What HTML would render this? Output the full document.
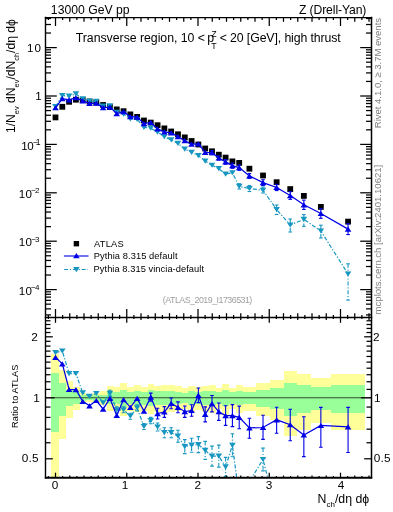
<!DOCTYPE html>
<html><head><meta charset="utf-8">
<style>
html,body{margin:0;padding:0;background:#fff;}
body{width:393px;height:512px;position:relative;overflow:hidden;}
#w{position:absolute;left:0;top:0;width:393px;height:512px;will-change:transform;background:#fff;}
</style></head><body><div id="w">
<svg width="393" height="512" viewBox="0 0 393 512" style="position:absolute;left:0;top:0">
<defs><clipPath id="cu"><rect x="45" y="17" width="326" height="300"/></clipPath><clipPath id="cl"><rect x="45" y="317" width="326" height="160.7"/></clipPath></defs>
<g clip-path="url(#cl)" shape-rendering="crispEdges">
<rect x="51.49" y="353.90" width="7.81" height="135.51" fill="#ffff99"/>
<rect x="59.30" y="369.70" width="6.61" height="69.63" fill="#ffff99"/>
<rect x="65.91" y="381.10" width="6.80" height="37.33" fill="#ffff99"/>
<rect x="72.71" y="387.00" width="6.80" height="23.11" fill="#ffff99"/>
<rect x="79.51" y="393.00" width="6.80" height="9.88" fill="#ffff99"/>
<rect x="86.32" y="393.50" width="6.80" height="8.82" fill="#ffff99"/>
<rect x="93.12" y="392.50" width="6.80" height="10.94" fill="#ffff99"/>
<rect x="99.93" y="391.00" width="6.80" height="14.17" fill="#ffff99"/>
<rect x="106.73" y="386.20" width="6.80" height="24.96" fill="#ffff99"/>
<rect x="113.53" y="386.50" width="6.80" height="24.27" fill="#ffff99"/>
<rect x="120.34" y="382.90" width="6.80" height="32.85" fill="#ffff99"/>
<rect x="127.14" y="386.50" width="6.80" height="24.27" fill="#ffff99"/>
<rect x="133.95" y="385.40" width="6.80" height="26.84" fill="#ffff99"/>
<rect x="140.75" y="386.50" width="6.80" height="24.27" fill="#ffff99"/>
<rect x="147.55" y="384.20" width="6.80" height="29.69" fill="#ffff99"/>
<rect x="154.36" y="385.70" width="6.80" height="26.13" fill="#ffff99"/>
<rect x="161.16" y="385.00" width="6.80" height="27.78" fill="#ffff99"/>
<rect x="167.97" y="385.30" width="6.80" height="27.07" fill="#ffff99"/>
<rect x="174.77" y="386.00" width="6.80" height="25.43" fill="#ffff99"/>
<rect x="181.57" y="388.00" width="6.80" height="20.83" fill="#ffff99"/>
<rect x="188.38" y="385.70" width="6.80" height="26.13" fill="#ffff99"/>
<rect x="195.18" y="387.30" width="6.80" height="22.42" fill="#ffff99"/>
<rect x="201.99" y="385.70" width="6.80" height="26.13" fill="#ffff99"/>
<rect x="208.79" y="385.00" width="6.80" height="27.78" fill="#ffff99"/>
<rect x="215.59" y="387.80" width="6.80" height="21.28" fill="#ffff99"/>
<rect x="222.40" y="383.70" width="6.80" height="30.90" fill="#ffff99"/>
<rect x="229.20" y="387.80" width="6.80" height="21.28" fill="#ffff99"/>
<rect x="236.01" y="385.00" width="6.80" height="27.78" fill="#ffff99"/>
<rect x="242.81" y="386.70" width="13.61" height="23.81" fill="#ffff99"/>
<rect x="256.42" y="382.80" width="13.61" height="33.09" fill="#ffff99"/>
<rect x="270.03" y="380.20" width="13.61" height="39.62" fill="#ffff99"/>
<rect x="283.63" y="371.10" width="13.61" height="65.22" fill="#ffff99"/>
<rect x="297.24" y="374.20" width="13.61" height="55.95" fill="#ffff99"/>
<rect x="310.85" y="378.30" width="20.41" height="44.59" fill="#ffff99"/>
<rect x="331.26" y="374.20" width="33.44" height="55.95" fill="#ffff99"/>
<rect x="51.49" y="373.00" width="7.81" height="59.46" fill="#99ff99"/>
<rect x="59.30" y="382.50" width="6.61" height="33.83" fill="#99ff99"/>
<rect x="65.91" y="390.30" width="6.80" height="15.70" fill="#99ff99"/>
<rect x="72.71" y="391.90" width="6.80" height="12.22" fill="#99ff99"/>
<rect x="79.51" y="395.00" width="6.80" height="5.69" fill="#99ff99"/>
<rect x="86.32" y="395.50" width="6.80" height="4.66" fill="#99ff99"/>
<rect x="93.12" y="395.00" width="6.80" height="5.69" fill="#99ff99"/>
<rect x="99.93" y="394.50" width="6.80" height="6.73" fill="#99ff99"/>
<rect x="106.73" y="392.00" width="6.80" height="12.01" fill="#99ff99"/>
<rect x="113.53" y="391.80" width="6.80" height="12.44" fill="#99ff99"/>
<rect x="120.34" y="389.50" width="6.80" height="17.47" fill="#99ff99"/>
<rect x="127.14" y="391.80" width="6.80" height="12.44" fill="#99ff99"/>
<rect x="133.95" y="391.00" width="6.80" height="14.17" fill="#99ff99"/>
<rect x="140.75" y="391.50" width="6.80" height="13.09" fill="#99ff99"/>
<rect x="147.55" y="390.30" width="6.80" height="15.70" fill="#99ff99"/>
<rect x="154.36" y="391.00" width="6.80" height="14.17" fill="#99ff99"/>
<rect x="161.16" y="391.00" width="6.80" height="14.17" fill="#99ff99"/>
<rect x="167.97" y="391.40" width="6.80" height="13.30" fill="#99ff99"/>
<rect x="174.77" y="391.80" width="6.80" height="12.44" fill="#99ff99"/>
<rect x="181.57" y="392.60" width="6.80" height="10.73" fill="#99ff99"/>
<rect x="188.38" y="391.40" width="6.80" height="13.30" fill="#99ff99"/>
<rect x="195.18" y="392.10" width="6.80" height="11.79" fill="#99ff99"/>
<rect x="201.99" y="391.10" width="6.80" height="13.95" fill="#99ff99"/>
<rect x="208.79" y="391.10" width="6.80" height="13.95" fill="#99ff99"/>
<rect x="215.59" y="392.10" width="6.80" height="11.79" fill="#99ff99"/>
<rect x="222.40" y="390.30" width="6.80" height="15.70" fill="#99ff99"/>
<rect x="229.20" y="391.70" width="6.80" height="12.65" fill="#99ff99"/>
<rect x="236.01" y="390.80" width="6.80" height="14.61" fill="#99ff99"/>
<rect x="242.81" y="391.70" width="13.61" height="12.65" fill="#99ff99"/>
<rect x="256.42" y="389.60" width="13.61" height="17.24" fill="#99ff99"/>
<rect x="270.03" y="388.20" width="13.61" height="20.38" fill="#99ff99"/>
<rect x="283.63" y="382.90" width="13.61" height="32.85" fill="#99ff99"/>
<rect x="297.24" y="384.70" width="13.61" height="28.50" fill="#99ff99"/>
<rect x="310.85" y="387.00" width="20.41" height="23.11" fill="#99ff99"/>
<rect x="331.26" y="384.70" width="33.44" height="28.50" fill="#99ff99"/>
</g>
<line x1="45" y1="397.8" x2="371" y2="397.8" stroke="#000" stroke-opacity="0.7" stroke-width="1.1"/>
<g clip-path="url(#cl)">
<path d="M55.50,352.60 L62.30,351.00 L69.11,373.70 L75.91,373.50 L82.72,392.90 L89.52,396.40 L96.32,393.50 L103.13,402.80 L109.93,393.30 L116.74,409.80 L123.54,409.80 L130.34,416.20 L137.15,407.90 L143.95,426.50 L150.76,420.60 L157.56,427.00 L164.36,432.70 L171.17,432.70 L177.97,436.20 L184.78,446.60 L191.58,445.20 L198.38,444.60 L205.19,450.40 L211.99,456.10 L218.80,456.10 L225.60,466.90 L232.40,445.30 L239.21,497.00 L249.41,481.50 L263.02,459.50 L276.63,511.70 L290.24,549.00 L303.85,495.80 L320.86,498.70 L348.07,613.80" fill="none" stroke="#1696c0" stroke-width="1.2" stroke-dasharray="4,1.8,1.2,1.8"/>
<path d="M52.20,350.00 L58.80,350.00 L55.50,355.20Z" fill="#1696c0"/>
<path d="M59.00,348.40 L65.60,348.40 L62.30,353.60Z" fill="#1696c0"/>
<path d="M65.81,371.10 L72.41,371.10 L69.11,376.30Z" fill="#1696c0"/>
<path d="M72.61,370.90 L79.21,370.90 L75.91,376.10Z" fill="#1696c0"/>
<path d="M79.42,390.30 L86.02,390.30 L82.72,395.50Z" fill="#1696c0"/>
<path d="M86.22,393.80 L92.82,393.80 L89.52,399.00Z" fill="#1696c0"/>
<path d="M93.02,390.90 L99.62,390.90 L96.32,396.10Z" fill="#1696c0"/>
<path d="M99.83,400.20 L106.43,400.20 L103.13,405.40Z" fill="#1696c0"/>
<line x1="109.93" y1="390.30" x2="109.93" y2="396.30" stroke="#1696c0" stroke-width="1.1" stroke-dasharray="4,1.8,1.2,1.8"/><line x1="108.13" y1="390.30" x2="111.73" y2="390.30" stroke="#1696c0" stroke-width="1.1"/><line x1="108.13" y1="396.30" x2="111.73" y2="396.30" stroke="#1696c0" stroke-width="1.1"/>
<path d="M106.63,390.70 L113.23,390.70 L109.93,395.90Z" fill="#1696c0"/>
<line x1="116.74" y1="406.80" x2="116.74" y2="412.80" stroke="#1696c0" stroke-width="1.1" stroke-dasharray="4,1.8,1.2,1.8"/><line x1="114.94" y1="406.80" x2="118.54" y2="406.80" stroke="#1696c0" stroke-width="1.1"/><line x1="114.94" y1="412.80" x2="118.54" y2="412.80" stroke="#1696c0" stroke-width="1.1"/>
<path d="M113.44,407.20 L120.04,407.20 L116.74,412.40Z" fill="#1696c0"/>
<line x1="123.54" y1="406.80" x2="123.54" y2="412.80" stroke="#1696c0" stroke-width="1.1" stroke-dasharray="4,1.8,1.2,1.8"/><line x1="121.74" y1="406.80" x2="125.34" y2="406.80" stroke="#1696c0" stroke-width="1.1"/><line x1="121.74" y1="412.80" x2="125.34" y2="412.80" stroke="#1696c0" stroke-width="1.1"/>
<path d="M120.24,407.20 L126.84,407.20 L123.54,412.40Z" fill="#1696c0"/>
<line x1="130.34" y1="413.20" x2="130.34" y2="419.20" stroke="#1696c0" stroke-width="1.1" stroke-dasharray="4,1.8,1.2,1.8"/><line x1="128.54" y1="413.20" x2="132.14" y2="413.20" stroke="#1696c0" stroke-width="1.1"/><line x1="128.54" y1="419.20" x2="132.14" y2="419.20" stroke="#1696c0" stroke-width="1.1"/>
<path d="M127.04,413.60 L133.64,413.60 L130.34,418.80Z" fill="#1696c0"/>
<line x1="137.15" y1="404.90" x2="137.15" y2="410.90" stroke="#1696c0" stroke-width="1.1" stroke-dasharray="4,1.8,1.2,1.8"/><line x1="135.35" y1="404.90" x2="138.95" y2="404.90" stroke="#1696c0" stroke-width="1.1"/><line x1="135.35" y1="410.90" x2="138.95" y2="410.90" stroke="#1696c0" stroke-width="1.1"/>
<path d="M133.85,405.30 L140.45,405.30 L137.15,410.50Z" fill="#1696c0"/>
<line x1="143.95" y1="423.50" x2="143.95" y2="429.50" stroke="#1696c0" stroke-width="1.1" stroke-dasharray="4,1.8,1.2,1.8"/><line x1="142.15" y1="423.50" x2="145.75" y2="423.50" stroke="#1696c0" stroke-width="1.1"/><line x1="142.15" y1="429.50" x2="145.75" y2="429.50" stroke="#1696c0" stroke-width="1.1"/>
<path d="M140.65,423.90 L147.25,423.90 L143.95,429.10Z" fill="#1696c0"/>
<line x1="150.76" y1="417.40" x2="150.76" y2="423.80" stroke="#1696c0" stroke-width="1.1" stroke-dasharray="4,1.8,1.2,1.8"/><line x1="148.96" y1="417.40" x2="152.56" y2="417.40" stroke="#1696c0" stroke-width="1.1"/><line x1="148.96" y1="423.80" x2="152.56" y2="423.80" stroke="#1696c0" stroke-width="1.1"/>
<path d="M147.46,418.00 L154.06,418.00 L150.76,423.20Z" fill="#1696c0"/>
<line x1="157.56" y1="423.00" x2="157.56" y2="431.00" stroke="#1696c0" stroke-width="1.1" stroke-dasharray="4,1.8,1.2,1.8"/><line x1="155.76" y1="423.00" x2="159.36" y2="423.00" stroke="#1696c0" stroke-width="1.1"/><line x1="155.76" y1="431.00" x2="159.36" y2="431.00" stroke="#1696c0" stroke-width="1.1"/>
<path d="M154.26,424.40 L160.86,424.40 L157.56,429.60Z" fill="#1696c0"/>
<line x1="164.36" y1="427.70" x2="164.36" y2="437.70" stroke="#1696c0" stroke-width="1.1" stroke-dasharray="4,1.8,1.2,1.8"/><line x1="162.56" y1="427.70" x2="166.16" y2="427.70" stroke="#1696c0" stroke-width="1.1"/><line x1="162.56" y1="437.70" x2="166.16" y2="437.70" stroke="#1696c0" stroke-width="1.1"/>
<path d="M161.06,430.10 L167.66,430.10 L164.36,435.30Z" fill="#1696c0"/>
<line x1="171.17" y1="427.70" x2="171.17" y2="437.70" stroke="#1696c0" stroke-width="1.1" stroke-dasharray="4,1.8,1.2,1.8"/><line x1="169.37" y1="427.70" x2="172.97" y2="427.70" stroke="#1696c0" stroke-width="1.1"/><line x1="169.37" y1="437.70" x2="172.97" y2="437.70" stroke="#1696c0" stroke-width="1.1"/>
<path d="M167.87,430.10 L174.47,430.10 L171.17,435.30Z" fill="#1696c0"/>
<line x1="177.97" y1="430.20" x2="177.97" y2="442.20" stroke="#1696c0" stroke-width="1.1" stroke-dasharray="4,1.8,1.2,1.8"/><line x1="176.17" y1="430.20" x2="179.77" y2="430.20" stroke="#1696c0" stroke-width="1.1"/><line x1="176.17" y1="442.20" x2="179.77" y2="442.20" stroke="#1696c0" stroke-width="1.1"/>
<path d="M174.67,433.60 L181.27,433.60 L177.97,438.80Z" fill="#1696c0"/>
<line x1="184.78" y1="439.60" x2="184.78" y2="453.60" stroke="#1696c0" stroke-width="1.1" stroke-dasharray="4,1.8,1.2,1.8"/><line x1="182.98" y1="439.60" x2="186.58" y2="439.60" stroke="#1696c0" stroke-width="1.1"/><line x1="182.98" y1="453.60" x2="186.58" y2="453.60" stroke="#1696c0" stroke-width="1.1"/>
<path d="M181.48,444.00 L188.08,444.00 L184.78,449.20Z" fill="#1696c0"/>
<line x1="191.58" y1="438.20" x2="191.58" y2="452.20" stroke="#1696c0" stroke-width="1.1" stroke-dasharray="4,1.8,1.2,1.8"/><line x1="189.78" y1="438.20" x2="193.38" y2="438.20" stroke="#1696c0" stroke-width="1.1"/><line x1="189.78" y1="452.20" x2="193.38" y2="452.20" stroke="#1696c0" stroke-width="1.1"/>
<path d="M188.28,442.60 L194.88,442.60 L191.58,447.80Z" fill="#1696c0"/>
<line x1="198.38" y1="436.60" x2="198.38" y2="452.60" stroke="#1696c0" stroke-width="1.1" stroke-dasharray="4,1.8,1.2,1.8"/><line x1="196.58" y1="436.60" x2="200.18" y2="436.60" stroke="#1696c0" stroke-width="1.1"/><line x1="196.58" y1="452.60" x2="200.18" y2="452.60" stroke="#1696c0" stroke-width="1.1"/>
<path d="M195.08,442.00 L201.68,442.00 L198.38,447.20Z" fill="#1696c0"/>
<line x1="205.19" y1="441.40" x2="205.19" y2="459.40" stroke="#1696c0" stroke-width="1.1" stroke-dasharray="4,1.8,1.2,1.8"/><line x1="203.39" y1="441.40" x2="206.99" y2="441.40" stroke="#1696c0" stroke-width="1.1"/><line x1="203.39" y1="459.40" x2="206.99" y2="459.40" stroke="#1696c0" stroke-width="1.1"/>
<path d="M201.89,447.80 L208.49,447.80 L205.19,453.00Z" fill="#1696c0"/>
<line x1="211.99" y1="446.10" x2="211.99" y2="466.10" stroke="#1696c0" stroke-width="1.1" stroke-dasharray="4,1.8,1.2,1.8"/><line x1="210.19" y1="446.10" x2="213.79" y2="446.10" stroke="#1696c0" stroke-width="1.1"/><line x1="210.19" y1="466.10" x2="213.79" y2="466.10" stroke="#1696c0" stroke-width="1.1"/>
<path d="M208.69,453.50 L215.29,453.50 L211.99,458.70Z" fill="#1696c0"/>
<line x1="218.80" y1="445.10" x2="218.80" y2="467.10" stroke="#1696c0" stroke-width="1.1" stroke-dasharray="4,1.8,1.2,1.8"/><line x1="217.00" y1="445.10" x2="220.60" y2="445.10" stroke="#1696c0" stroke-width="1.1"/><line x1="217.00" y1="467.10" x2="220.60" y2="467.10" stroke="#1696c0" stroke-width="1.1"/>
<path d="M215.50,453.50 L222.10,453.50 L218.80,458.70Z" fill="#1696c0"/>
<line x1="225.60" y1="457.40" x2="225.60" y2="476.40" stroke="#1696c0" stroke-width="1.1" stroke-dasharray="4,1.8,1.2,1.8"/><line x1="223.80" y1="457.40" x2="227.40" y2="457.40" stroke="#1696c0" stroke-width="1.1"/><line x1="223.80" y1="476.40" x2="227.40" y2="476.40" stroke="#1696c0" stroke-width="1.1"/>
<path d="M222.30,464.30 L228.90,464.30 L225.60,469.50Z" fill="#1696c0"/>
<line x1="232.40" y1="433.80" x2="232.40" y2="456.80" stroke="#1696c0" stroke-width="1.1" stroke-dasharray="4,1.8,1.2,1.8"/><line x1="230.60" y1="433.80" x2="234.20" y2="433.80" stroke="#1696c0" stroke-width="1.1"/><line x1="230.60" y1="456.80" x2="234.20" y2="456.80" stroke="#1696c0" stroke-width="1.1"/>
<path d="M229.10,442.70 L235.70,442.70 L232.40,447.90Z" fill="#1696c0"/>
<line x1="239.21" y1="483.00" x2="239.21" y2="511.00" stroke="#1696c0" stroke-width="1.1" stroke-dasharray="4,1.8,1.2,1.8"/><line x1="237.41" y1="483.00" x2="241.01" y2="483.00" stroke="#1696c0" stroke-width="1.1"/><line x1="237.41" y1="511.00" x2="241.01" y2="511.00" stroke="#1696c0" stroke-width="1.1"/>
<path d="M235.91,494.40 L242.51,494.40 L239.21,499.60Z" fill="#1696c0"/>
<line x1="249.41" y1="478.50" x2="249.41" y2="484.50" stroke="#1696c0" stroke-width="1.1" stroke-dasharray="4,1.8,1.2,1.8"/><line x1="247.61" y1="478.50" x2="251.21" y2="478.50" stroke="#1696c0" stroke-width="1.1"/><line x1="247.61" y1="484.50" x2="251.21" y2="484.50" stroke="#1696c0" stroke-width="1.1"/>
<path d="M246.11,478.90 L252.71,478.90 L249.41,484.10Z" fill="#1696c0"/>
<line x1="263.02" y1="448.10" x2="263.02" y2="470.90" stroke="#1696c0" stroke-width="1.1" stroke-dasharray="4,1.8,1.2,1.8"/><line x1="261.22" y1="448.10" x2="264.82" y2="448.10" stroke="#1696c0" stroke-width="1.1"/><line x1="261.22" y1="470.90" x2="264.82" y2="470.90" stroke="#1696c0" stroke-width="1.1"/>
<path d="M259.72,456.90 L266.32,456.90 L263.02,462.10Z" fill="#1696c0"/>
<line x1="276.63" y1="491.70" x2="276.63" y2="531.70" stroke="#1696c0" stroke-width="1.1" stroke-dasharray="4,1.8,1.2,1.8"/><line x1="274.83" y1="491.70" x2="278.43" y2="491.70" stroke="#1696c0" stroke-width="1.1"/><line x1="274.83" y1="531.70" x2="278.43" y2="531.70" stroke="#1696c0" stroke-width="1.1"/>
<path d="M273.33,509.10 L279.93,509.10 L276.63,514.30Z" fill="#1696c0"/>
<line x1="290.24" y1="521.00" x2="290.24" y2="577.00" stroke="#1696c0" stroke-width="1.1" stroke-dasharray="4,1.8,1.2,1.8"/><line x1="288.44" y1="521.00" x2="292.04" y2="521.00" stroke="#1696c0" stroke-width="1.1"/><line x1="288.44" y1="577.00" x2="292.04" y2="577.00" stroke="#1696c0" stroke-width="1.1"/>
<path d="M286.94,546.40 L293.54,546.40 L290.24,551.60Z" fill="#1696c0"/>
<line x1="303.85" y1="485.80" x2="303.85" y2="505.80" stroke="#1696c0" stroke-width="1.1" stroke-dasharray="4,1.8,1.2,1.8"/><line x1="302.05" y1="485.80" x2="305.65" y2="485.80" stroke="#1696c0" stroke-width="1.1"/><line x1="302.05" y1="505.80" x2="305.65" y2="505.80" stroke="#1696c0" stroke-width="1.1"/>
<path d="M300.55,493.20 L307.15,493.20 L303.85,498.40Z" fill="#1696c0"/>
<line x1="320.86" y1="488.70" x2="320.86" y2="508.70" stroke="#1696c0" stroke-width="1.1" stroke-dasharray="4,1.8,1.2,1.8"/><line x1="319.06" y1="488.70" x2="322.66" y2="488.70" stroke="#1696c0" stroke-width="1.1"/><line x1="319.06" y1="508.70" x2="322.66" y2="508.70" stroke="#1696c0" stroke-width="1.1"/>
<path d="M317.56,496.10 L324.16,496.10 L320.86,501.30Z" fill="#1696c0"/>
<line x1="348.07" y1="553.80" x2="348.07" y2="673.80" stroke="#1696c0" stroke-width="1.1" stroke-dasharray="4,1.8,1.2,1.8"/><line x1="346.27" y1="553.80" x2="349.87" y2="553.80" stroke="#1696c0" stroke-width="1.1"/><line x1="346.27" y1="673.80" x2="349.87" y2="673.80" stroke="#1696c0" stroke-width="1.1"/>
<path d="M344.77,611.20 L351.37,611.20 L348.07,616.40Z" fill="#1696c0"/>
<path d="M55.50,357.40 L62.30,363.90 L69.11,389.50 L75.91,389.60 L82.72,401.30 L89.52,405.80 L96.32,400.50 L103.13,409.20 L109.93,398.40 L116.74,415.50 L123.54,399.60 L130.34,407.30 L137.15,398.40 L143.95,411.10 L150.76,397.10 L157.56,413.60 L164.36,412.00 L171.17,403.40 L177.97,407.30 L184.78,411.70 L191.58,410.50 L198.38,395.30 L205.19,414.40 L211.99,403.70 L218.80,411.70 L225.60,415.60 L232.40,415.60 L239.21,417.40 L249.41,427.90 L263.02,427.50 L276.63,419.80 L290.24,424.70 L303.85,435.00 L320.86,425.50 L348.07,426.90" fill="none" stroke="#0000e6" stroke-width="1.25"/>
<path d="M52.20,360.00 L58.80,360.00 L55.50,354.80Z" fill="#0000e6"/>
<path d="M59.00,366.50 L65.60,366.50 L62.30,361.30Z" fill="#0000e6"/>
<path d="M65.81,392.10 L72.41,392.10 L69.11,386.90Z" fill="#0000e6"/>
<path d="M72.61,392.20 L79.21,392.20 L75.91,387.00Z" fill="#0000e6"/>
<path d="M79.42,403.90 L86.02,403.90 L82.72,398.70Z" fill="#0000e6"/>
<path d="M86.22,408.40 L92.82,408.40 L89.52,403.20Z" fill="#0000e6"/>
<path d="M93.02,403.10 L99.62,403.10 L96.32,397.90Z" fill="#0000e6"/>
<path d="M99.83,411.80 L106.43,411.80 L103.13,406.60Z" fill="#0000e6"/>
<path d="M106.63,401.00 L113.23,401.00 L109.93,395.80Z" fill="#0000e6"/>
<path d="M113.44,418.10 L120.04,418.10 L116.74,412.90Z" fill="#0000e6"/>
<path d="M120.24,402.20 L126.84,402.20 L123.54,397.00Z" fill="#0000e6"/>
<path d="M127.04,409.90 L133.64,409.90 L130.34,404.70Z" fill="#0000e6"/>
<path d="M133.85,401.00 L140.45,401.00 L137.15,395.80Z" fill="#0000e6"/>
<path d="M140.65,413.70 L147.25,413.70 L143.95,408.50Z" fill="#0000e6"/>
<line x1="150.76" y1="393.10" x2="150.76" y2="401.10" stroke="#0000e6" stroke-width="1.1"/><line x1="148.96" y1="393.10" x2="152.56" y2="393.10" stroke="#0000e6" stroke-width="1.1"/><line x1="148.96" y1="401.10" x2="152.56" y2="401.10" stroke="#0000e6" stroke-width="1.1"/>
<path d="M147.46,399.70 L154.06,399.70 L150.76,394.50Z" fill="#0000e6"/>
<line x1="157.56" y1="408.20" x2="157.56" y2="419.00" stroke="#0000e6" stroke-width="1.1"/><line x1="155.76" y1="408.20" x2="159.36" y2="408.20" stroke="#0000e6" stroke-width="1.1"/><line x1="155.76" y1="419.00" x2="159.36" y2="419.00" stroke="#0000e6" stroke-width="1.1"/>
<path d="M154.26,416.20 L160.86,416.20 L157.56,411.00Z" fill="#0000e6"/>
<line x1="164.36" y1="406.60" x2="164.36" y2="417.40" stroke="#0000e6" stroke-width="1.1"/><line x1="162.56" y1="406.60" x2="166.16" y2="406.60" stroke="#0000e6" stroke-width="1.1"/><line x1="162.56" y1="417.40" x2="166.16" y2="417.40" stroke="#0000e6" stroke-width="1.1"/>
<path d="M161.06,414.60 L167.66,414.60 L164.36,409.40Z" fill="#0000e6"/>
<line x1="171.17" y1="398.00" x2="171.17" y2="408.80" stroke="#0000e6" stroke-width="1.1"/><line x1="169.37" y1="398.00" x2="172.97" y2="398.00" stroke="#0000e6" stroke-width="1.1"/><line x1="169.37" y1="408.80" x2="172.97" y2="408.80" stroke="#0000e6" stroke-width="1.1"/>
<path d="M167.87,406.00 L174.47,406.00 L171.17,400.80Z" fill="#0000e6"/>
<line x1="177.97" y1="401.90" x2="177.97" y2="412.70" stroke="#0000e6" stroke-width="1.1"/><line x1="176.17" y1="401.90" x2="179.77" y2="401.90" stroke="#0000e6" stroke-width="1.1"/><line x1="176.17" y1="412.70" x2="179.77" y2="412.70" stroke="#0000e6" stroke-width="1.1"/>
<path d="M174.67,409.90 L181.27,409.90 L177.97,404.70Z" fill="#0000e6"/>
<line x1="184.78" y1="406.00" x2="184.78" y2="417.40" stroke="#0000e6" stroke-width="1.1"/><line x1="182.98" y1="406.00" x2="186.58" y2="406.00" stroke="#0000e6" stroke-width="1.1"/><line x1="182.98" y1="417.40" x2="186.58" y2="417.40" stroke="#0000e6" stroke-width="1.1"/>
<path d="M181.48,414.30 L188.08,414.30 L184.78,409.10Z" fill="#0000e6"/>
<line x1="191.58" y1="404.80" x2="191.58" y2="416.20" stroke="#0000e6" stroke-width="1.1"/><line x1="189.78" y1="404.80" x2="193.38" y2="404.80" stroke="#0000e6" stroke-width="1.1"/><line x1="189.78" y1="416.20" x2="193.38" y2="416.20" stroke="#0000e6" stroke-width="1.1"/>
<path d="M188.28,413.10 L194.88,413.10 L191.58,407.90Z" fill="#0000e6"/>
<line x1="198.38" y1="388.00" x2="198.38" y2="402.60" stroke="#0000e6" stroke-width="1.1"/><line x1="196.58" y1="388.00" x2="200.18" y2="388.00" stroke="#0000e6" stroke-width="1.1"/><line x1="196.58" y1="402.60" x2="200.18" y2="402.60" stroke="#0000e6" stroke-width="1.1"/>
<path d="M195.08,397.90 L201.68,397.90 L198.38,392.70Z" fill="#0000e6"/>
<line x1="205.19" y1="406.90" x2="205.19" y2="421.90" stroke="#0000e6" stroke-width="1.1"/><line x1="203.39" y1="406.90" x2="206.99" y2="406.90" stroke="#0000e6" stroke-width="1.1"/><line x1="203.39" y1="421.90" x2="206.99" y2="421.90" stroke="#0000e6" stroke-width="1.1"/>
<path d="M201.89,417.00 L208.49,417.00 L205.19,411.80Z" fill="#0000e6"/>
<line x1="211.99" y1="395.50" x2="211.99" y2="411.90" stroke="#0000e6" stroke-width="1.1"/><line x1="210.19" y1="395.50" x2="213.79" y2="395.50" stroke="#0000e6" stroke-width="1.1"/><line x1="210.19" y1="411.90" x2="213.79" y2="411.90" stroke="#0000e6" stroke-width="1.1"/>
<path d="M208.69,406.30 L215.29,406.30 L211.99,401.10Z" fill="#0000e6"/>
<line x1="218.80" y1="403.00" x2="218.80" y2="420.40" stroke="#0000e6" stroke-width="1.1"/><line x1="217.00" y1="403.00" x2="220.60" y2="403.00" stroke="#0000e6" stroke-width="1.1"/><line x1="217.00" y1="420.40" x2="220.60" y2="420.40" stroke="#0000e6" stroke-width="1.1"/>
<path d="M215.50,414.30 L222.10,414.30 L218.80,409.10Z" fill="#0000e6"/>
<line x1="225.60" y1="405.80" x2="225.60" y2="425.40" stroke="#0000e6" stroke-width="1.1"/><line x1="223.80" y1="405.80" x2="227.40" y2="405.80" stroke="#0000e6" stroke-width="1.1"/><line x1="223.80" y1="425.40" x2="227.40" y2="425.40" stroke="#0000e6" stroke-width="1.1"/>
<path d="M222.30,418.20 L228.90,418.20 L225.60,413.00Z" fill="#0000e6"/>
<line x1="232.40" y1="404.60" x2="232.40" y2="426.60" stroke="#0000e6" stroke-width="1.1"/><line x1="230.60" y1="404.60" x2="234.20" y2="404.60" stroke="#0000e6" stroke-width="1.1"/><line x1="230.60" y1="426.60" x2="234.20" y2="426.60" stroke="#0000e6" stroke-width="1.1"/>
<path d="M229.10,418.20 L235.70,418.20 L232.40,413.00Z" fill="#0000e6"/>
<line x1="239.21" y1="406.10" x2="239.21" y2="428.70" stroke="#0000e6" stroke-width="1.1"/><line x1="237.41" y1="406.10" x2="241.01" y2="406.10" stroke="#0000e6" stroke-width="1.1"/><line x1="237.41" y1="428.70" x2="241.01" y2="428.70" stroke="#0000e6" stroke-width="1.1"/>
<path d="M235.91,420.00 L242.51,420.00 L239.21,414.80Z" fill="#0000e6"/>
<line x1="249.41" y1="418.30" x2="249.41" y2="438.20" stroke="#0000e6" stroke-width="1.1"/><line x1="247.61" y1="418.30" x2="251.21" y2="418.30" stroke="#0000e6" stroke-width="1.1"/><line x1="247.61" y1="438.20" x2="251.21" y2="438.20" stroke="#0000e6" stroke-width="1.1"/>
<path d="M246.11,430.50 L252.71,430.50 L249.41,425.30Z" fill="#0000e6"/>
<line x1="263.02" y1="415.30" x2="263.02" y2="439.40" stroke="#0000e6" stroke-width="1.1"/><line x1="261.22" y1="415.30" x2="264.82" y2="415.30" stroke="#0000e6" stroke-width="1.1"/><line x1="261.22" y1="439.40" x2="264.82" y2="439.40" stroke="#0000e6" stroke-width="1.1"/>
<path d="M259.72,430.10 L266.32,430.10 L263.02,424.90Z" fill="#0000e6"/>
<line x1="276.63" y1="407.30" x2="276.63" y2="433.30" stroke="#0000e6" stroke-width="1.1"/><line x1="274.83" y1="407.30" x2="278.43" y2="407.30" stroke="#0000e6" stroke-width="1.1"/><line x1="274.83" y1="433.30" x2="278.43" y2="433.30" stroke="#0000e6" stroke-width="1.1"/>
<path d="M273.33,422.40 L279.93,422.40 L276.63,417.20Z" fill="#0000e6"/>
<line x1="290.24" y1="409.20" x2="290.24" y2="440.70" stroke="#0000e6" stroke-width="1.1"/><line x1="288.44" y1="409.20" x2="292.04" y2="409.20" stroke="#0000e6" stroke-width="1.1"/><line x1="288.44" y1="440.70" x2="292.04" y2="440.70" stroke="#0000e6" stroke-width="1.1"/>
<path d="M286.94,427.30 L293.54,427.30 L290.24,422.10Z" fill="#0000e6"/>
<line x1="303.85" y1="416.80" x2="303.85" y2="456.60" stroke="#0000e6" stroke-width="1.1"/><line x1="302.05" y1="416.80" x2="305.65" y2="416.80" stroke="#0000e6" stroke-width="1.1"/><line x1="302.05" y1="456.60" x2="305.65" y2="456.60" stroke="#0000e6" stroke-width="1.1"/>
<path d="M300.55,437.60 L307.15,437.60 L303.85,432.40Z" fill="#0000e6"/>
<line x1="320.86" y1="407.40" x2="320.86" y2="447.30" stroke="#0000e6" stroke-width="1.1"/><line x1="319.06" y1="407.40" x2="322.66" y2="407.40" stroke="#0000e6" stroke-width="1.1"/><line x1="319.06" y1="447.30" x2="322.66" y2="447.30" stroke="#0000e6" stroke-width="1.1"/>
<path d="M317.56,428.10 L324.16,428.10 L320.86,422.90Z" fill="#0000e6"/>
<line x1="348.07" y1="407.40" x2="348.07" y2="452.50" stroke="#0000e6" stroke-width="1.1"/><line x1="346.27" y1="407.40" x2="349.87" y2="407.40" stroke="#0000e6" stroke-width="1.1"/><line x1="346.27" y1="452.50" x2="349.87" y2="452.50" stroke="#0000e6" stroke-width="1.1"/>
<path d="M344.77,429.50 L351.37,429.50 L348.07,424.30Z" fill="#0000e6"/>
</g>
<g clip-path="url(#cu)">
<rect x="52.60" y="114.50" width="5.8" height="5.8" fill="#000"/>
<rect x="59.40" y="103.90" width="5.8" height="5.8" fill="#000"/>
<rect x="66.21" y="98.90" width="5.8" height="5.8" fill="#000"/>
<rect x="73.01" y="96.80" width="5.8" height="5.8" fill="#000"/>
<rect x="79.82" y="97.10" width="5.8" height="5.8" fill="#000"/>
<rect x="86.62" y="98.60" width="5.8" height="5.8" fill="#000"/>
<rect x="93.42" y="99.60" width="5.8" height="5.8" fill="#000"/>
<rect x="100.23" y="102.10" width="5.8" height="5.8" fill="#000"/>
<rect x="107.03" y="104.10" width="5.8" height="5.8" fill="#000"/>
<rect x="113.84" y="106.50" width="5.8" height="5.8" fill="#000"/>
<rect x="120.64" y="108.30" width="5.8" height="5.8" fill="#000"/>
<rect x="127.44" y="111.50" width="5.8" height="5.8" fill="#000"/>
<rect x="134.25" y="114.00" width="5.8" height="5.8" fill="#000"/>
<rect x="141.05" y="117.60" width="5.8" height="5.8" fill="#000"/>
<rect x="147.86" y="119.70" width="5.8" height="5.8" fill="#000"/>
<rect x="154.66" y="122.30" width="5.8" height="5.8" fill="#000"/>
<rect x="161.46" y="125.50" width="5.8" height="5.8" fill="#000"/>
<rect x="168.27" y="128.60" width="5.8" height="5.8" fill="#000"/>
<rect x="175.07" y="131.40" width="5.8" height="5.8" fill="#000"/>
<rect x="181.88" y="134.50" width="5.8" height="5.8" fill="#000"/>
<rect x="188.68" y="138.10" width="5.8" height="5.8" fill="#000"/>
<rect x="195.48" y="141.60" width="5.8" height="5.8" fill="#000"/>
<rect x="202.29" y="145.60" width="5.8" height="5.8" fill="#000"/>
<rect x="209.09" y="148.40" width="5.8" height="5.8" fill="#000"/>
<rect x="215.90" y="151.80" width="5.8" height="5.8" fill="#000"/>
<rect x="222.70" y="154.70" width="5.8" height="5.8" fill="#000"/>
<rect x="229.50" y="158.50" width="5.8" height="5.8" fill="#000"/>
<rect x="236.31" y="160.00" width="5.8" height="5.8" fill="#000"/>
<rect x="246.51" y="165.80" width="5.8" height="5.8" fill="#000"/>
<rect x="260.12" y="172.60" width="5.8" height="5.8" fill="#000"/>
<rect x="273.73" y="179.30" width="5.8" height="5.8" fill="#000"/>
<rect x="287.34" y="186.20" width="5.8" height="5.8" fill="#000"/>
<rect x="300.95" y="193.00" width="5.8" height="5.8" fill="#000"/>
<rect x="317.96" y="204.00" width="5.8" height="5.8" fill="#000"/>
<rect x="345.17" y="218.70" width="5.8" height="5.8" fill="#000"/>
<path d="M55.50,106.60 L62.30,95.62 L69.11,96.04 L75.91,93.89 L82.72,98.83 L89.52,101.17 L96.32,101.47 L103.13,106.19 L109.93,105.92 L116.74,112.27 L123.54,114.07 L130.34,118.80 L137.15,119.31 L143.95,127.36 L150.76,128.05 L157.56,132.18 L164.36,136.74 L171.17,139.84 L177.97,143.47 L184.78,149.06 L191.58,152.32 L198.38,155.68 L205.19,161.07 L211.99,165.23 L218.80,168.63 L225.60,174.11 L232.40,172.75 L239.21,186.40 L249.41,188.50 L263.02,190.24 L276.63,209.50 L290.24,225.00 L303.85,219.30 L320.86,231.00 L348.07,274.00" fill="none" stroke="#1696c0" stroke-width="1.2" stroke-dasharray="4,1.8,1.2,1.8"/>
<path d="M52.20,104.00 L58.80,104.00 L55.50,109.20Z" fill="#1696c0"/>
<path d="M59.00,93.02 L65.60,93.02 L62.30,98.22Z" fill="#1696c0"/>
<path d="M65.81,93.44 L72.41,93.44 L69.11,98.64Z" fill="#1696c0"/>
<path d="M72.61,91.29 L79.21,91.29 L75.91,96.49Z" fill="#1696c0"/>
<path d="M79.42,96.23 L86.02,96.23 L82.72,101.43Z" fill="#1696c0"/>
<path d="M86.22,98.57 L92.82,98.57 L89.52,103.77Z" fill="#1696c0"/>
<path d="M93.02,98.87 L99.62,98.87 L96.32,104.07Z" fill="#1696c0"/>
<path d="M99.83,103.59 L106.43,103.59 L103.13,108.79Z" fill="#1696c0"/>
<path d="M106.63,103.32 L113.23,103.32 L109.93,108.52Z" fill="#1696c0"/>
<path d="M113.44,109.67 L120.04,109.67 L116.74,114.87Z" fill="#1696c0"/>
<path d="M120.24,111.47 L126.84,111.47 L123.54,116.67Z" fill="#1696c0"/>
<path d="M127.04,116.20 L133.64,116.20 L130.34,121.40Z" fill="#1696c0"/>
<path d="M133.85,116.71 L140.45,116.71 L137.15,121.91Z" fill="#1696c0"/>
<path d="M140.65,124.76 L147.25,124.76 L143.95,129.96Z" fill="#1696c0"/>
<path d="M147.46,125.45 L154.06,125.45 L150.76,130.65Z" fill="#1696c0"/>
<path d="M154.26,129.58 L160.86,129.58 L157.56,134.78Z" fill="#1696c0"/>
<path d="M161.06,134.14 L167.66,134.14 L164.36,139.34Z" fill="#1696c0"/>
<path d="M167.87,137.24 L174.47,137.24 L171.17,142.44Z" fill="#1696c0"/>
<path d="M174.67,140.87 L181.27,140.87 L177.97,146.07Z" fill="#1696c0"/>
<path d="M181.48,146.46 L188.08,146.46 L184.78,151.66Z" fill="#1696c0"/>
<path d="M188.28,149.72 L194.88,149.72 L191.58,154.92Z" fill="#1696c0"/>
<path d="M195.08,153.08 L201.68,153.08 L198.38,158.28Z" fill="#1696c0"/>
<path d="M201.89,158.47 L208.49,158.47 L205.19,163.67Z" fill="#1696c0"/>
<path d="M208.69,162.63 L215.29,162.63 L211.99,167.83Z" fill="#1696c0"/>
<path d="M215.50,166.03 L222.10,166.03 L218.80,171.23Z" fill="#1696c0"/>
<path d="M222.30,171.51 L228.90,171.51 L225.60,176.71Z" fill="#1696c0"/>
<path d="M229.10,170.15 L235.70,170.15 L232.40,175.35Z" fill="#1696c0"/>
<line x1="239.21" y1="183.80" x2="239.21" y2="189.00" stroke="#1696c0" stroke-width="1.1" stroke-dasharray="4,1.8,1.2,1.8"/><line x1="237.41" y1="183.80" x2="241.01" y2="183.80" stroke="#1696c0" stroke-width="1.1"/><line x1="237.41" y1="189.00" x2="241.01" y2="189.00" stroke="#1696c0" stroke-width="1.1"/>
<path d="M235.91,183.80 L242.51,183.80 L239.21,189.00Z" fill="#1696c0"/>
<line x1="249.41" y1="185.50" x2="249.41" y2="191.50" stroke="#1696c0" stroke-width="1.1" stroke-dasharray="4,1.8,1.2,1.8"/><line x1="247.61" y1="185.50" x2="251.21" y2="185.50" stroke="#1696c0" stroke-width="1.1"/><line x1="247.61" y1="191.50" x2="251.21" y2="191.50" stroke="#1696c0" stroke-width="1.1"/>
<path d="M246.11,185.90 L252.71,185.90 L249.41,191.10Z" fill="#1696c0"/>
<line x1="263.02" y1="187.00" x2="263.02" y2="193.00" stroke="#1696c0" stroke-width="1.1" stroke-dasharray="4,1.8,1.2,1.8"/><line x1="261.22" y1="187.00" x2="264.82" y2="187.00" stroke="#1696c0" stroke-width="1.1"/><line x1="261.22" y1="193.00" x2="264.82" y2="193.00" stroke="#1696c0" stroke-width="1.1"/>
<path d="M259.72,187.64 L266.32,187.64 L263.02,192.84Z" fill="#1696c0"/>
<line x1="276.63" y1="205.00" x2="276.63" y2="214.50" stroke="#1696c0" stroke-width="1.1" stroke-dasharray="4,1.8,1.2,1.8"/><line x1="274.83" y1="205.00" x2="278.43" y2="205.00" stroke="#1696c0" stroke-width="1.1"/><line x1="274.83" y1="214.50" x2="278.43" y2="214.50" stroke="#1696c0" stroke-width="1.1"/>
<path d="M273.33,206.90 L279.93,206.90 L276.63,212.10Z" fill="#1696c0"/>
<line x1="290.24" y1="219.00" x2="290.24" y2="232.00" stroke="#1696c0" stroke-width="1.1" stroke-dasharray="4,1.8,1.2,1.8"/><line x1="288.44" y1="219.00" x2="292.04" y2="219.00" stroke="#1696c0" stroke-width="1.1"/><line x1="288.44" y1="232.00" x2="292.04" y2="232.00" stroke="#1696c0" stroke-width="1.1"/>
<path d="M286.94,222.40 L293.54,222.40 L290.24,227.60Z" fill="#1696c0"/>
<line x1="303.85" y1="214.60" x2="303.85" y2="226.30" stroke="#1696c0" stroke-width="1.1" stroke-dasharray="4,1.8,1.2,1.8"/><line x1="302.05" y1="214.60" x2="305.65" y2="214.60" stroke="#1696c0" stroke-width="1.1"/><line x1="302.05" y1="226.30" x2="305.65" y2="226.30" stroke="#1696c0" stroke-width="1.1"/>
<path d="M300.55,216.70 L307.15,216.70 L303.85,221.90Z" fill="#1696c0"/>
<line x1="320.86" y1="225.20" x2="320.86" y2="238.00" stroke="#1696c0" stroke-width="1.1" stroke-dasharray="4,1.8,1.2,1.8"/><line x1="319.06" y1="225.20" x2="322.66" y2="225.20" stroke="#1696c0" stroke-width="1.1"/><line x1="319.06" y1="238.00" x2="322.66" y2="238.00" stroke="#1696c0" stroke-width="1.1"/>
<path d="M317.56,228.40 L324.16,228.40 L320.86,233.60Z" fill="#1696c0"/>
<line x1="348.07" y1="263.80" x2="348.07" y2="300.10" stroke="#1696c0" stroke-width="1.1" stroke-dasharray="4,1.8,1.2,1.8"/><line x1="346.27" y1="263.80" x2="349.87" y2="263.80" stroke="#1696c0" stroke-width="1.1"/><line x1="346.27" y1="300.10" x2="349.87" y2="300.10" stroke="#1696c0" stroke-width="1.1"/>
<path d="M344.77,271.40 L351.37,271.40 L348.07,276.60Z" fill="#1696c0"/>
<path d="M55.50,107.75 L62.30,98.70 L69.11,99.82 L75.91,97.74 L82.72,100.84 L89.52,103.41 L96.32,103.15 L103.13,107.72 L109.93,107.14 L116.74,113.63 L123.54,111.63 L130.34,116.67 L137.15,117.04 L143.95,123.68 L150.76,122.43 L157.56,128.97 L164.36,131.79 L171.17,132.84 L177.97,136.57 L184.78,140.72 L191.58,144.03 L198.38,143.90 L205.19,152.47 L211.99,152.71 L218.80,158.02 L225.60,161.85 L232.40,165.65 L239.21,167.58 L249.41,175.89 L263.02,182.60 L276.63,187.46 L290.24,195.53 L303.85,204.79 L320.86,213.52 L348.07,229.15" fill="none" stroke="#0000e6" stroke-width="1.25"/>
<path d="M52.20,110.35 L58.80,110.35 L55.50,105.15Z" fill="#0000e6"/>
<path d="M59.00,101.30 L65.60,101.30 L62.30,96.10Z" fill="#0000e6"/>
<path d="M65.81,102.42 L72.41,102.42 L69.11,97.22Z" fill="#0000e6"/>
<path d="M72.61,100.34 L79.21,100.34 L75.91,95.14Z" fill="#0000e6"/>
<path d="M79.42,103.44 L86.02,103.44 L82.72,98.24Z" fill="#0000e6"/>
<path d="M86.22,106.01 L92.82,106.01 L89.52,100.81Z" fill="#0000e6"/>
<path d="M93.02,105.75 L99.62,105.75 L96.32,100.55Z" fill="#0000e6"/>
<path d="M99.83,110.32 L106.43,110.32 L103.13,105.12Z" fill="#0000e6"/>
<path d="M106.63,109.74 L113.23,109.74 L109.93,104.54Z" fill="#0000e6"/>
<path d="M113.44,116.23 L120.04,116.23 L116.74,111.03Z" fill="#0000e6"/>
<path d="M120.24,114.23 L126.84,114.23 L123.54,109.03Z" fill="#0000e6"/>
<path d="M127.04,119.27 L133.64,119.27 L130.34,114.07Z" fill="#0000e6"/>
<path d="M133.85,119.64 L140.45,119.64 L137.15,114.44Z" fill="#0000e6"/>
<path d="M140.65,126.28 L147.25,126.28 L143.95,121.08Z" fill="#0000e6"/>
<path d="M147.46,125.03 L154.06,125.03 L150.76,119.83Z" fill="#0000e6"/>
<path d="M154.26,131.57 L160.86,131.57 L157.56,126.37Z" fill="#0000e6"/>
<path d="M161.06,134.39 L167.66,134.39 L164.36,129.19Z" fill="#0000e6"/>
<path d="M167.87,135.44 L174.47,135.44 L171.17,130.24Z" fill="#0000e6"/>
<path d="M174.67,139.17 L181.27,139.17 L177.97,133.97Z" fill="#0000e6"/>
<path d="M181.48,143.32 L188.08,143.32 L184.78,138.12Z" fill="#0000e6"/>
<path d="M188.28,146.63 L194.88,146.63 L191.58,141.43Z" fill="#0000e6"/>
<path d="M195.08,146.50 L201.68,146.50 L198.38,141.30Z" fill="#0000e6"/>
<path d="M201.89,155.07 L208.49,155.07 L205.19,149.87Z" fill="#0000e6"/>
<line x1="211.99" y1="150.75" x2="211.99" y2="154.67" stroke="#0000e6" stroke-width="1.1"/><line x1="210.19" y1="150.75" x2="213.79" y2="150.75" stroke="#0000e6" stroke-width="1.1"/><line x1="210.19" y1="154.67" x2="213.79" y2="154.67" stroke="#0000e6" stroke-width="1.1"/>
<path d="M208.69,155.31 L215.29,155.31 L211.99,150.11Z" fill="#0000e6"/>
<line x1="218.80" y1="155.94" x2="218.80" y2="160.10" stroke="#0000e6" stroke-width="1.1"/><line x1="217.00" y1="155.94" x2="220.60" y2="155.94" stroke="#0000e6" stroke-width="1.1"/><line x1="217.00" y1="160.10" x2="220.60" y2="160.10" stroke="#0000e6" stroke-width="1.1"/>
<path d="M215.50,160.62 L222.10,160.62 L218.80,155.42Z" fill="#0000e6"/>
<line x1="225.60" y1="159.51" x2="225.60" y2="164.19" stroke="#0000e6" stroke-width="1.1"/><line x1="223.80" y1="159.51" x2="227.40" y2="159.51" stroke="#0000e6" stroke-width="1.1"/><line x1="223.80" y1="164.19" x2="227.40" y2="164.19" stroke="#0000e6" stroke-width="1.1"/>
<path d="M222.30,164.45 L228.90,164.45 L225.60,159.25Z" fill="#0000e6"/>
<line x1="232.40" y1="163.02" x2="232.40" y2="168.28" stroke="#0000e6" stroke-width="1.1"/><line x1="230.60" y1="163.02" x2="234.20" y2="163.02" stroke="#0000e6" stroke-width="1.1"/><line x1="230.60" y1="168.28" x2="234.20" y2="168.28" stroke="#0000e6" stroke-width="1.1"/>
<path d="M229.10,168.25 L235.70,168.25 L232.40,163.05Z" fill="#0000e6"/>
<line x1="239.21" y1="164.88" x2="239.21" y2="170.28" stroke="#0000e6" stroke-width="1.1"/><line x1="237.41" y1="164.88" x2="241.01" y2="164.88" stroke="#0000e6" stroke-width="1.1"/><line x1="237.41" y1="170.28" x2="241.01" y2="170.28" stroke="#0000e6" stroke-width="1.1"/>
<path d="M235.91,170.18 L242.51,170.18 L239.21,164.98Z" fill="#0000e6"/>
<line x1="249.41" y1="173.50" x2="249.41" y2="178.28" stroke="#0000e6" stroke-width="1.1"/><line x1="247.61" y1="173.50" x2="251.21" y2="173.50" stroke="#0000e6" stroke-width="1.1"/><line x1="247.61" y1="178.28" x2="251.21" y2="178.28" stroke="#0000e6" stroke-width="1.1"/>
<path d="M246.11,178.49 L252.71,178.49 L249.41,173.29Z" fill="#0000e6"/>
<line x1="263.02" y1="179.73" x2="263.02" y2="185.46" stroke="#0000e6" stroke-width="1.1"/><line x1="261.22" y1="179.73" x2="264.82" y2="179.73" stroke="#0000e6" stroke-width="1.1"/><line x1="261.22" y1="185.46" x2="264.82" y2="185.46" stroke="#0000e6" stroke-width="1.1"/>
<path d="M259.72,185.20 L266.32,185.20 L263.02,180.00Z" fill="#0000e6"/>
<line x1="276.63" y1="184.35" x2="276.63" y2="190.56" stroke="#0000e6" stroke-width="1.1"/><line x1="274.83" y1="184.35" x2="278.43" y2="184.35" stroke="#0000e6" stroke-width="1.1"/><line x1="274.83" y1="190.56" x2="278.43" y2="190.56" stroke="#0000e6" stroke-width="1.1"/>
<path d="M273.33,190.06 L279.93,190.06 L276.63,184.86Z" fill="#0000e6"/>
<line x1="290.24" y1="191.70" x2="290.24" y2="199.35" stroke="#0000e6" stroke-width="1.1"/><line x1="288.44" y1="191.70" x2="292.04" y2="191.70" stroke="#0000e6" stroke-width="1.1"/><line x1="288.44" y1="199.35" x2="292.04" y2="199.35" stroke="#0000e6" stroke-width="1.1"/>
<path d="M286.94,198.13 L293.54,198.13 L290.24,192.93Z" fill="#0000e6"/>
<line x1="303.85" y1="200.10" x2="303.85" y2="209.47" stroke="#0000e6" stroke-width="1.1"/><line x1="302.05" y1="200.10" x2="305.65" y2="200.10" stroke="#0000e6" stroke-width="1.1"/><line x1="302.05" y1="209.47" x2="305.65" y2="209.47" stroke="#0000e6" stroke-width="1.1"/>
<path d="M300.55,207.39 L307.15,207.39 L303.85,202.19Z" fill="#0000e6"/>
<line x1="320.86" y1="208.74" x2="320.86" y2="218.30" stroke="#0000e6" stroke-width="1.1"/><line x1="319.06" y1="208.74" x2="322.66" y2="208.74" stroke="#0000e6" stroke-width="1.1"/><line x1="319.06" y1="218.30" x2="322.66" y2="218.30" stroke="#0000e6" stroke-width="1.1"/>
<path d="M317.56,216.12 L324.16,216.12 L320.86,210.92Z" fill="#0000e6"/>
<line x1="348.07" y1="223.73" x2="348.07" y2="234.57" stroke="#0000e6" stroke-width="1.1"/><line x1="346.27" y1="223.73" x2="349.87" y2="223.73" stroke="#0000e6" stroke-width="1.1"/><line x1="346.27" y1="234.57" x2="349.87" y2="234.57" stroke="#0000e6" stroke-width="1.1"/>
<path d="M344.77,231.75 L351.37,231.75 L348.07,226.55Z" fill="#0000e6"/>
</g>
<g><line x1="48.38" y1="17.50" x2="48.38" y2="20.00" stroke="#000" stroke-width="1.25"/><line x1="48.38" y1="317.50" x2="48.38" y2="315.00" stroke="#000" stroke-width="1.25"/><line x1="48.38" y1="317.50" x2="48.38" y2="319.00" stroke="#000" stroke-width="1.25"/><line x1="48.38" y1="477.70" x2="48.38" y2="476.10" stroke="#000" stroke-width="1.25"/><line x1="55.50" y1="17.50" x2="55.50" y2="26.00" stroke="#000" stroke-width="1.25"/><line x1="55.50" y1="317.50" x2="55.50" y2="309.00" stroke="#000" stroke-width="1.25"/><line x1="55.50" y1="317.50" x2="55.50" y2="322.80" stroke="#000" stroke-width="1.25"/><line x1="55.50" y1="477.70" x2="55.50" y2="472.70" stroke="#000" stroke-width="1.25"/><line x1="62.62" y1="17.50" x2="62.62" y2="20.00" stroke="#000" stroke-width="1.25"/><line x1="62.62" y1="317.50" x2="62.62" y2="315.00" stroke="#000" stroke-width="1.25"/><line x1="62.62" y1="317.50" x2="62.62" y2="319.00" stroke="#000" stroke-width="1.25"/><line x1="62.62" y1="477.70" x2="62.62" y2="476.10" stroke="#000" stroke-width="1.25"/><line x1="69.75" y1="17.50" x2="69.75" y2="21.80" stroke="#000" stroke-width="1.25"/><line x1="69.75" y1="317.50" x2="69.75" y2="313.20" stroke="#000" stroke-width="1.25"/><line x1="69.75" y1="317.50" x2="69.75" y2="320.00" stroke="#000" stroke-width="1.25"/><line x1="69.75" y1="477.70" x2="69.75" y2="475.50" stroke="#000" stroke-width="1.25"/><line x1="76.88" y1="17.50" x2="76.88" y2="20.00" stroke="#000" stroke-width="1.25"/><line x1="76.88" y1="317.50" x2="76.88" y2="315.00" stroke="#000" stroke-width="1.25"/><line x1="76.88" y1="317.50" x2="76.88" y2="319.00" stroke="#000" stroke-width="1.25"/><line x1="76.88" y1="477.70" x2="76.88" y2="476.10" stroke="#000" stroke-width="1.25"/><line x1="84.00" y1="17.50" x2="84.00" y2="21.80" stroke="#000" stroke-width="1.25"/><line x1="84.00" y1="317.50" x2="84.00" y2="313.20" stroke="#000" stroke-width="1.25"/><line x1="84.00" y1="317.50" x2="84.00" y2="320.00" stroke="#000" stroke-width="1.25"/><line x1="84.00" y1="477.70" x2="84.00" y2="475.50" stroke="#000" stroke-width="1.25"/><line x1="91.12" y1="17.50" x2="91.12" y2="20.00" stroke="#000" stroke-width="1.25"/><line x1="91.12" y1="317.50" x2="91.12" y2="315.00" stroke="#000" stroke-width="1.25"/><line x1="91.12" y1="317.50" x2="91.12" y2="319.00" stroke="#000" stroke-width="1.25"/><line x1="91.12" y1="477.70" x2="91.12" y2="476.10" stroke="#000" stroke-width="1.25"/><line x1="98.25" y1="17.50" x2="98.25" y2="21.80" stroke="#000" stroke-width="1.25"/><line x1="98.25" y1="317.50" x2="98.25" y2="313.20" stroke="#000" stroke-width="1.25"/><line x1="98.25" y1="317.50" x2="98.25" y2="320.00" stroke="#000" stroke-width="1.25"/><line x1="98.25" y1="477.70" x2="98.25" y2="475.50" stroke="#000" stroke-width="1.25"/><line x1="105.38" y1="17.50" x2="105.38" y2="20.00" stroke="#000" stroke-width="1.25"/><line x1="105.38" y1="317.50" x2="105.38" y2="315.00" stroke="#000" stroke-width="1.25"/><line x1="105.38" y1="317.50" x2="105.38" y2="319.00" stroke="#000" stroke-width="1.25"/><line x1="105.38" y1="477.70" x2="105.38" y2="476.10" stroke="#000" stroke-width="1.25"/><line x1="112.50" y1="17.50" x2="112.50" y2="21.80" stroke="#000" stroke-width="1.25"/><line x1="112.50" y1="317.50" x2="112.50" y2="313.20" stroke="#000" stroke-width="1.25"/><line x1="112.50" y1="317.50" x2="112.50" y2="320.00" stroke="#000" stroke-width="1.25"/><line x1="112.50" y1="477.70" x2="112.50" y2="475.50" stroke="#000" stroke-width="1.25"/><line x1="119.62" y1="17.50" x2="119.62" y2="20.00" stroke="#000" stroke-width="1.25"/><line x1="119.62" y1="317.50" x2="119.62" y2="315.00" stroke="#000" stroke-width="1.25"/><line x1="119.62" y1="317.50" x2="119.62" y2="319.00" stroke="#000" stroke-width="1.25"/><line x1="119.62" y1="477.70" x2="119.62" y2="476.10" stroke="#000" stroke-width="1.25"/><line x1="126.75" y1="17.50" x2="126.75" y2="26.00" stroke="#000" stroke-width="1.25"/><line x1="126.75" y1="317.50" x2="126.75" y2="309.00" stroke="#000" stroke-width="1.25"/><line x1="126.75" y1="317.50" x2="126.75" y2="322.80" stroke="#000" stroke-width="1.25"/><line x1="126.75" y1="477.70" x2="126.75" y2="472.70" stroke="#000" stroke-width="1.25"/><line x1="133.88" y1="17.50" x2="133.88" y2="20.00" stroke="#000" stroke-width="1.25"/><line x1="133.88" y1="317.50" x2="133.88" y2="315.00" stroke="#000" stroke-width="1.25"/><line x1="133.88" y1="317.50" x2="133.88" y2="319.00" stroke="#000" stroke-width="1.25"/><line x1="133.88" y1="477.70" x2="133.88" y2="476.10" stroke="#000" stroke-width="1.25"/><line x1="141.00" y1="17.50" x2="141.00" y2="21.80" stroke="#000" stroke-width="1.25"/><line x1="141.00" y1="317.50" x2="141.00" y2="313.20" stroke="#000" stroke-width="1.25"/><line x1="141.00" y1="317.50" x2="141.00" y2="320.00" stroke="#000" stroke-width="1.25"/><line x1="141.00" y1="477.70" x2="141.00" y2="475.50" stroke="#000" stroke-width="1.25"/><line x1="148.12" y1="17.50" x2="148.12" y2="20.00" stroke="#000" stroke-width="1.25"/><line x1="148.12" y1="317.50" x2="148.12" y2="315.00" stroke="#000" stroke-width="1.25"/><line x1="148.12" y1="317.50" x2="148.12" y2="319.00" stroke="#000" stroke-width="1.25"/><line x1="148.12" y1="477.70" x2="148.12" y2="476.10" stroke="#000" stroke-width="1.25"/><line x1="155.25" y1="17.50" x2="155.25" y2="21.80" stroke="#000" stroke-width="1.25"/><line x1="155.25" y1="317.50" x2="155.25" y2="313.20" stroke="#000" stroke-width="1.25"/><line x1="155.25" y1="317.50" x2="155.25" y2="320.00" stroke="#000" stroke-width="1.25"/><line x1="155.25" y1="477.70" x2="155.25" y2="475.50" stroke="#000" stroke-width="1.25"/><line x1="162.38" y1="17.50" x2="162.38" y2="20.00" stroke="#000" stroke-width="1.25"/><line x1="162.38" y1="317.50" x2="162.38" y2="315.00" stroke="#000" stroke-width="1.25"/><line x1="162.38" y1="317.50" x2="162.38" y2="319.00" stroke="#000" stroke-width="1.25"/><line x1="162.38" y1="477.70" x2="162.38" y2="476.10" stroke="#000" stroke-width="1.25"/><line x1="169.50" y1="17.50" x2="169.50" y2="21.80" stroke="#000" stroke-width="1.25"/><line x1="169.50" y1="317.50" x2="169.50" y2="313.20" stroke="#000" stroke-width="1.25"/><line x1="169.50" y1="317.50" x2="169.50" y2="320.00" stroke="#000" stroke-width="1.25"/><line x1="169.50" y1="477.70" x2="169.50" y2="475.50" stroke="#000" stroke-width="1.25"/><line x1="176.62" y1="17.50" x2="176.62" y2="20.00" stroke="#000" stroke-width="1.25"/><line x1="176.62" y1="317.50" x2="176.62" y2="315.00" stroke="#000" stroke-width="1.25"/><line x1="176.62" y1="317.50" x2="176.62" y2="319.00" stroke="#000" stroke-width="1.25"/><line x1="176.62" y1="477.70" x2="176.62" y2="476.10" stroke="#000" stroke-width="1.25"/><line x1="183.75" y1="17.50" x2="183.75" y2="21.80" stroke="#000" stroke-width="1.25"/><line x1="183.75" y1="317.50" x2="183.75" y2="313.20" stroke="#000" stroke-width="1.25"/><line x1="183.75" y1="317.50" x2="183.75" y2="320.00" stroke="#000" stroke-width="1.25"/><line x1="183.75" y1="477.70" x2="183.75" y2="475.50" stroke="#000" stroke-width="1.25"/><line x1="190.88" y1="17.50" x2="190.88" y2="20.00" stroke="#000" stroke-width="1.25"/><line x1="190.88" y1="317.50" x2="190.88" y2="315.00" stroke="#000" stroke-width="1.25"/><line x1="190.88" y1="317.50" x2="190.88" y2="319.00" stroke="#000" stroke-width="1.25"/><line x1="190.88" y1="477.70" x2="190.88" y2="476.10" stroke="#000" stroke-width="1.25"/><line x1="198.00" y1="17.50" x2="198.00" y2="26.00" stroke="#000" stroke-width="1.25"/><line x1="198.00" y1="317.50" x2="198.00" y2="309.00" stroke="#000" stroke-width="1.25"/><line x1="198.00" y1="317.50" x2="198.00" y2="322.80" stroke="#000" stroke-width="1.25"/><line x1="198.00" y1="477.70" x2="198.00" y2="472.70" stroke="#000" stroke-width="1.25"/><line x1="205.12" y1="17.50" x2="205.12" y2="20.00" stroke="#000" stroke-width="1.25"/><line x1="205.12" y1="317.50" x2="205.12" y2="315.00" stroke="#000" stroke-width="1.25"/><line x1="205.12" y1="317.50" x2="205.12" y2="319.00" stroke="#000" stroke-width="1.25"/><line x1="205.12" y1="477.70" x2="205.12" y2="476.10" stroke="#000" stroke-width="1.25"/><line x1="212.25" y1="17.50" x2="212.25" y2="21.80" stroke="#000" stroke-width="1.25"/><line x1="212.25" y1="317.50" x2="212.25" y2="313.20" stroke="#000" stroke-width="1.25"/><line x1="212.25" y1="317.50" x2="212.25" y2="320.00" stroke="#000" stroke-width="1.25"/><line x1="212.25" y1="477.70" x2="212.25" y2="475.50" stroke="#000" stroke-width="1.25"/><line x1="219.38" y1="17.50" x2="219.38" y2="20.00" stroke="#000" stroke-width="1.25"/><line x1="219.38" y1="317.50" x2="219.38" y2="315.00" stroke="#000" stroke-width="1.25"/><line x1="219.38" y1="317.50" x2="219.38" y2="319.00" stroke="#000" stroke-width="1.25"/><line x1="219.38" y1="477.70" x2="219.38" y2="476.10" stroke="#000" stroke-width="1.25"/><line x1="226.50" y1="17.50" x2="226.50" y2="21.80" stroke="#000" stroke-width="1.25"/><line x1="226.50" y1="317.50" x2="226.50" y2="313.20" stroke="#000" stroke-width="1.25"/><line x1="226.50" y1="317.50" x2="226.50" y2="320.00" stroke="#000" stroke-width="1.25"/><line x1="226.50" y1="477.70" x2="226.50" y2="475.50" stroke="#000" stroke-width="1.25"/><line x1="233.62" y1="17.50" x2="233.62" y2="20.00" stroke="#000" stroke-width="1.25"/><line x1="233.62" y1="317.50" x2="233.62" y2="315.00" stroke="#000" stroke-width="1.25"/><line x1="233.62" y1="317.50" x2="233.62" y2="319.00" stroke="#000" stroke-width="1.25"/><line x1="233.62" y1="477.70" x2="233.62" y2="476.10" stroke="#000" stroke-width="1.25"/><line x1="240.75" y1="17.50" x2="240.75" y2="21.80" stroke="#000" stroke-width="1.25"/><line x1="240.75" y1="317.50" x2="240.75" y2="313.20" stroke="#000" stroke-width="1.25"/><line x1="240.75" y1="317.50" x2="240.75" y2="320.00" stroke="#000" stroke-width="1.25"/><line x1="240.75" y1="477.70" x2="240.75" y2="475.50" stroke="#000" stroke-width="1.25"/><line x1="247.88" y1="17.50" x2="247.88" y2="20.00" stroke="#000" stroke-width="1.25"/><line x1="247.88" y1="317.50" x2="247.88" y2="315.00" stroke="#000" stroke-width="1.25"/><line x1="247.88" y1="317.50" x2="247.88" y2="319.00" stroke="#000" stroke-width="1.25"/><line x1="247.88" y1="477.70" x2="247.88" y2="476.10" stroke="#000" stroke-width="1.25"/><line x1="255.00" y1="17.50" x2="255.00" y2="21.80" stroke="#000" stroke-width="1.25"/><line x1="255.00" y1="317.50" x2="255.00" y2="313.20" stroke="#000" stroke-width="1.25"/><line x1="255.00" y1="317.50" x2="255.00" y2="320.00" stroke="#000" stroke-width="1.25"/><line x1="255.00" y1="477.70" x2="255.00" y2="475.50" stroke="#000" stroke-width="1.25"/><line x1="262.12" y1="17.50" x2="262.12" y2="20.00" stroke="#000" stroke-width="1.25"/><line x1="262.12" y1="317.50" x2="262.12" y2="315.00" stroke="#000" stroke-width="1.25"/><line x1="262.12" y1="317.50" x2="262.12" y2="319.00" stroke="#000" stroke-width="1.25"/><line x1="262.12" y1="477.70" x2="262.12" y2="476.10" stroke="#000" stroke-width="1.25"/><line x1="269.25" y1="17.50" x2="269.25" y2="26.00" stroke="#000" stroke-width="1.25"/><line x1="269.25" y1="317.50" x2="269.25" y2="309.00" stroke="#000" stroke-width="1.25"/><line x1="269.25" y1="317.50" x2="269.25" y2="322.80" stroke="#000" stroke-width="1.25"/><line x1="269.25" y1="477.70" x2="269.25" y2="472.70" stroke="#000" stroke-width="1.25"/><line x1="276.38" y1="17.50" x2="276.38" y2="20.00" stroke="#000" stroke-width="1.25"/><line x1="276.38" y1="317.50" x2="276.38" y2="315.00" stroke="#000" stroke-width="1.25"/><line x1="276.38" y1="317.50" x2="276.38" y2="319.00" stroke="#000" stroke-width="1.25"/><line x1="276.38" y1="477.70" x2="276.38" y2="476.10" stroke="#000" stroke-width="1.25"/><line x1="283.50" y1="17.50" x2="283.50" y2="21.80" stroke="#000" stroke-width="1.25"/><line x1="283.50" y1="317.50" x2="283.50" y2="313.20" stroke="#000" stroke-width="1.25"/><line x1="283.50" y1="317.50" x2="283.50" y2="320.00" stroke="#000" stroke-width="1.25"/><line x1="283.50" y1="477.70" x2="283.50" y2="475.50" stroke="#000" stroke-width="1.25"/><line x1="290.62" y1="17.50" x2="290.62" y2="20.00" stroke="#000" stroke-width="1.25"/><line x1="290.62" y1="317.50" x2="290.62" y2="315.00" stroke="#000" stroke-width="1.25"/><line x1="290.62" y1="317.50" x2="290.62" y2="319.00" stroke="#000" stroke-width="1.25"/><line x1="290.62" y1="477.70" x2="290.62" y2="476.10" stroke="#000" stroke-width="1.25"/><line x1="297.75" y1="17.50" x2="297.75" y2="21.80" stroke="#000" stroke-width="1.25"/><line x1="297.75" y1="317.50" x2="297.75" y2="313.20" stroke="#000" stroke-width="1.25"/><line x1="297.75" y1="317.50" x2="297.75" y2="320.00" stroke="#000" stroke-width="1.25"/><line x1="297.75" y1="477.70" x2="297.75" y2="475.50" stroke="#000" stroke-width="1.25"/><line x1="304.88" y1="17.50" x2="304.88" y2="20.00" stroke="#000" stroke-width="1.25"/><line x1="304.88" y1="317.50" x2="304.88" y2="315.00" stroke="#000" stroke-width="1.25"/><line x1="304.88" y1="317.50" x2="304.88" y2="319.00" stroke="#000" stroke-width="1.25"/><line x1="304.88" y1="477.70" x2="304.88" y2="476.10" stroke="#000" stroke-width="1.25"/><line x1="312.00" y1="17.50" x2="312.00" y2="21.80" stroke="#000" stroke-width="1.25"/><line x1="312.00" y1="317.50" x2="312.00" y2="313.20" stroke="#000" stroke-width="1.25"/><line x1="312.00" y1="317.50" x2="312.00" y2="320.00" stroke="#000" stroke-width="1.25"/><line x1="312.00" y1="477.70" x2="312.00" y2="475.50" stroke="#000" stroke-width="1.25"/><line x1="319.12" y1="17.50" x2="319.12" y2="20.00" stroke="#000" stroke-width="1.25"/><line x1="319.12" y1="317.50" x2="319.12" y2="315.00" stroke="#000" stroke-width="1.25"/><line x1="319.12" y1="317.50" x2="319.12" y2="319.00" stroke="#000" stroke-width="1.25"/><line x1="319.12" y1="477.70" x2="319.12" y2="476.10" stroke="#000" stroke-width="1.25"/><line x1="326.25" y1="17.50" x2="326.25" y2="21.80" stroke="#000" stroke-width="1.25"/><line x1="326.25" y1="317.50" x2="326.25" y2="313.20" stroke="#000" stroke-width="1.25"/><line x1="326.25" y1="317.50" x2="326.25" y2="320.00" stroke="#000" stroke-width="1.25"/><line x1="326.25" y1="477.70" x2="326.25" y2="475.50" stroke="#000" stroke-width="1.25"/><line x1="333.38" y1="17.50" x2="333.38" y2="20.00" stroke="#000" stroke-width="1.25"/><line x1="333.38" y1="317.50" x2="333.38" y2="315.00" stroke="#000" stroke-width="1.25"/><line x1="333.38" y1="317.50" x2="333.38" y2="319.00" stroke="#000" stroke-width="1.25"/><line x1="333.38" y1="477.70" x2="333.38" y2="476.10" stroke="#000" stroke-width="1.25"/><line x1="340.50" y1="17.50" x2="340.50" y2="26.00" stroke="#000" stroke-width="1.25"/><line x1="340.50" y1="317.50" x2="340.50" y2="309.00" stroke="#000" stroke-width="1.25"/><line x1="340.50" y1="317.50" x2="340.50" y2="322.80" stroke="#000" stroke-width="1.25"/><line x1="340.50" y1="477.70" x2="340.50" y2="472.70" stroke="#000" stroke-width="1.25"/><line x1="347.62" y1="17.50" x2="347.62" y2="20.00" stroke="#000" stroke-width="1.25"/><line x1="347.62" y1="317.50" x2="347.62" y2="315.00" stroke="#000" stroke-width="1.25"/><line x1="347.62" y1="317.50" x2="347.62" y2="319.00" stroke="#000" stroke-width="1.25"/><line x1="347.62" y1="477.70" x2="347.62" y2="476.10" stroke="#000" stroke-width="1.25"/><line x1="354.75" y1="17.50" x2="354.75" y2="21.80" stroke="#000" stroke-width="1.25"/><line x1="354.75" y1="317.50" x2="354.75" y2="313.20" stroke="#000" stroke-width="1.25"/><line x1="354.75" y1="317.50" x2="354.75" y2="320.00" stroke="#000" stroke-width="1.25"/><line x1="354.75" y1="477.70" x2="354.75" y2="475.50" stroke="#000" stroke-width="1.25"/><line x1="361.88" y1="17.50" x2="361.88" y2="20.00" stroke="#000" stroke-width="1.25"/><line x1="361.88" y1="317.50" x2="361.88" y2="315.00" stroke="#000" stroke-width="1.25"/><line x1="361.88" y1="317.50" x2="361.88" y2="319.00" stroke="#000" stroke-width="1.25"/><line x1="361.88" y1="477.70" x2="361.88" y2="476.10" stroke="#000" stroke-width="1.25"/><line x1="369.00" y1="17.50" x2="369.00" y2="21.80" stroke="#000" stroke-width="1.25"/><line x1="369.00" y1="317.50" x2="369.00" y2="313.20" stroke="#000" stroke-width="1.25"/><line x1="369.00" y1="317.50" x2="369.00" y2="320.00" stroke="#000" stroke-width="1.25"/><line x1="369.00" y1="477.70" x2="369.00" y2="475.50" stroke="#000" stroke-width="1.25"/><line x1="45.50" y1="314.91" x2="51.00" y2="314.91" stroke="#000" stroke-width="1.25"/><line x1="371.50" y1="314.91" x2="366.00" y2="314.91" stroke="#000" stroke-width="1.25"/><line x1="45.50" y1="308.86" x2="51.00" y2="308.86" stroke="#000" stroke-width="1.25"/><line x1="371.50" y1="308.86" x2="366.00" y2="308.86" stroke="#000" stroke-width="1.25"/><line x1="45.50" y1="304.17" x2="51.00" y2="304.17" stroke="#000" stroke-width="1.25"/><line x1="371.50" y1="304.17" x2="366.00" y2="304.17" stroke="#000" stroke-width="1.25"/><line x1="45.50" y1="300.34" x2="51.00" y2="300.34" stroke="#000" stroke-width="1.25"/><line x1="371.50" y1="300.34" x2="366.00" y2="300.34" stroke="#000" stroke-width="1.25"/><line x1="45.50" y1="297.10" x2="51.00" y2="297.10" stroke="#000" stroke-width="1.25"/><line x1="371.50" y1="297.10" x2="366.00" y2="297.10" stroke="#000" stroke-width="1.25"/><line x1="45.50" y1="294.29" x2="51.00" y2="294.29" stroke="#000" stroke-width="1.25"/><line x1="371.50" y1="294.29" x2="366.00" y2="294.29" stroke="#000" stroke-width="1.25"/><line x1="45.50" y1="291.81" x2="51.00" y2="291.81" stroke="#000" stroke-width="1.25"/><line x1="371.50" y1="291.81" x2="366.00" y2="291.81" stroke="#000" stroke-width="1.25"/><line x1="45.50" y1="289.60" x2="56.80" y2="289.60" stroke="#000" stroke-width="1.25"/><line x1="371.50" y1="289.60" x2="360.20" y2="289.60" stroke="#000" stroke-width="1.25"/><line x1="45.50" y1="275.03" x2="51.00" y2="275.03" stroke="#000" stroke-width="1.25"/><line x1="371.50" y1="275.03" x2="366.00" y2="275.03" stroke="#000" stroke-width="1.25"/><line x1="45.50" y1="266.51" x2="51.00" y2="266.51" stroke="#000" stroke-width="1.25"/><line x1="371.50" y1="266.51" x2="366.00" y2="266.51" stroke="#000" stroke-width="1.25"/><line x1="45.50" y1="260.46" x2="51.00" y2="260.46" stroke="#000" stroke-width="1.25"/><line x1="371.50" y1="260.46" x2="366.00" y2="260.46" stroke="#000" stroke-width="1.25"/><line x1="45.50" y1="255.77" x2="51.00" y2="255.77" stroke="#000" stroke-width="1.25"/><line x1="371.50" y1="255.77" x2="366.00" y2="255.77" stroke="#000" stroke-width="1.25"/><line x1="45.50" y1="251.94" x2="51.00" y2="251.94" stroke="#000" stroke-width="1.25"/><line x1="371.50" y1="251.94" x2="366.00" y2="251.94" stroke="#000" stroke-width="1.25"/><line x1="45.50" y1="248.70" x2="51.00" y2="248.70" stroke="#000" stroke-width="1.25"/><line x1="371.50" y1="248.70" x2="366.00" y2="248.70" stroke="#000" stroke-width="1.25"/><line x1="45.50" y1="245.89" x2="51.00" y2="245.89" stroke="#000" stroke-width="1.25"/><line x1="371.50" y1="245.89" x2="366.00" y2="245.89" stroke="#000" stroke-width="1.25"/><line x1="45.50" y1="243.41" x2="51.00" y2="243.41" stroke="#000" stroke-width="1.25"/><line x1="371.50" y1="243.41" x2="366.00" y2="243.41" stroke="#000" stroke-width="1.25"/><line x1="45.50" y1="241.20" x2="56.80" y2="241.20" stroke="#000" stroke-width="1.25"/><line x1="371.50" y1="241.20" x2="360.20" y2="241.20" stroke="#000" stroke-width="1.25"/><line x1="45.50" y1="226.63" x2="51.00" y2="226.63" stroke="#000" stroke-width="1.25"/><line x1="371.50" y1="226.63" x2="366.00" y2="226.63" stroke="#000" stroke-width="1.25"/><line x1="45.50" y1="218.11" x2="51.00" y2="218.11" stroke="#000" stroke-width="1.25"/><line x1="371.50" y1="218.11" x2="366.00" y2="218.11" stroke="#000" stroke-width="1.25"/><line x1="45.50" y1="212.06" x2="51.00" y2="212.06" stroke="#000" stroke-width="1.25"/><line x1="371.50" y1="212.06" x2="366.00" y2="212.06" stroke="#000" stroke-width="1.25"/><line x1="45.50" y1="207.37" x2="51.00" y2="207.37" stroke="#000" stroke-width="1.25"/><line x1="371.50" y1="207.37" x2="366.00" y2="207.37" stroke="#000" stroke-width="1.25"/><line x1="45.50" y1="203.54" x2="51.00" y2="203.54" stroke="#000" stroke-width="1.25"/><line x1="371.50" y1="203.54" x2="366.00" y2="203.54" stroke="#000" stroke-width="1.25"/><line x1="45.50" y1="200.30" x2="51.00" y2="200.30" stroke="#000" stroke-width="1.25"/><line x1="371.50" y1="200.30" x2="366.00" y2="200.30" stroke="#000" stroke-width="1.25"/><line x1="45.50" y1="197.49" x2="51.00" y2="197.49" stroke="#000" stroke-width="1.25"/><line x1="371.50" y1="197.49" x2="366.00" y2="197.49" stroke="#000" stroke-width="1.25"/><line x1="45.50" y1="195.01" x2="51.00" y2="195.01" stroke="#000" stroke-width="1.25"/><line x1="371.50" y1="195.01" x2="366.00" y2="195.01" stroke="#000" stroke-width="1.25"/><line x1="45.50" y1="192.80" x2="56.80" y2="192.80" stroke="#000" stroke-width="1.25"/><line x1="371.50" y1="192.80" x2="360.20" y2="192.80" stroke="#000" stroke-width="1.25"/><line x1="45.50" y1="178.23" x2="51.00" y2="178.23" stroke="#000" stroke-width="1.25"/><line x1="371.50" y1="178.23" x2="366.00" y2="178.23" stroke="#000" stroke-width="1.25"/><line x1="45.50" y1="169.71" x2="51.00" y2="169.71" stroke="#000" stroke-width="1.25"/><line x1="371.50" y1="169.71" x2="366.00" y2="169.71" stroke="#000" stroke-width="1.25"/><line x1="45.50" y1="163.66" x2="51.00" y2="163.66" stroke="#000" stroke-width="1.25"/><line x1="371.50" y1="163.66" x2="366.00" y2="163.66" stroke="#000" stroke-width="1.25"/><line x1="45.50" y1="158.97" x2="51.00" y2="158.97" stroke="#000" stroke-width="1.25"/><line x1="371.50" y1="158.97" x2="366.00" y2="158.97" stroke="#000" stroke-width="1.25"/><line x1="45.50" y1="155.14" x2="51.00" y2="155.14" stroke="#000" stroke-width="1.25"/><line x1="371.50" y1="155.14" x2="366.00" y2="155.14" stroke="#000" stroke-width="1.25"/><line x1="45.50" y1="151.90" x2="51.00" y2="151.90" stroke="#000" stroke-width="1.25"/><line x1="371.50" y1="151.90" x2="366.00" y2="151.90" stroke="#000" stroke-width="1.25"/><line x1="45.50" y1="149.09" x2="51.00" y2="149.09" stroke="#000" stroke-width="1.25"/><line x1="371.50" y1="149.09" x2="366.00" y2="149.09" stroke="#000" stroke-width="1.25"/><line x1="45.50" y1="146.61" x2="51.00" y2="146.61" stroke="#000" stroke-width="1.25"/><line x1="371.50" y1="146.61" x2="366.00" y2="146.61" stroke="#000" stroke-width="1.25"/><line x1="45.50" y1="144.40" x2="56.80" y2="144.40" stroke="#000" stroke-width="1.25"/><line x1="371.50" y1="144.40" x2="360.20" y2="144.40" stroke="#000" stroke-width="1.25"/><line x1="45.50" y1="129.83" x2="51.00" y2="129.83" stroke="#000" stroke-width="1.25"/><line x1="371.50" y1="129.83" x2="366.00" y2="129.83" stroke="#000" stroke-width="1.25"/><line x1="45.50" y1="121.31" x2="51.00" y2="121.31" stroke="#000" stroke-width="1.25"/><line x1="371.50" y1="121.31" x2="366.00" y2="121.31" stroke="#000" stroke-width="1.25"/><line x1="45.50" y1="115.26" x2="51.00" y2="115.26" stroke="#000" stroke-width="1.25"/><line x1="371.50" y1="115.26" x2="366.00" y2="115.26" stroke="#000" stroke-width="1.25"/><line x1="45.50" y1="110.57" x2="51.00" y2="110.57" stroke="#000" stroke-width="1.25"/><line x1="371.50" y1="110.57" x2="366.00" y2="110.57" stroke="#000" stroke-width="1.25"/><line x1="45.50" y1="106.74" x2="51.00" y2="106.74" stroke="#000" stroke-width="1.25"/><line x1="371.50" y1="106.74" x2="366.00" y2="106.74" stroke="#000" stroke-width="1.25"/><line x1="45.50" y1="103.50" x2="51.00" y2="103.50" stroke="#000" stroke-width="1.25"/><line x1="371.50" y1="103.50" x2="366.00" y2="103.50" stroke="#000" stroke-width="1.25"/><line x1="45.50" y1="100.69" x2="51.00" y2="100.69" stroke="#000" stroke-width="1.25"/><line x1="371.50" y1="100.69" x2="366.00" y2="100.69" stroke="#000" stroke-width="1.25"/><line x1="45.50" y1="98.21" x2="51.00" y2="98.21" stroke="#000" stroke-width="1.25"/><line x1="371.50" y1="98.21" x2="366.00" y2="98.21" stroke="#000" stroke-width="1.25"/><line x1="45.50" y1="96.00" x2="56.80" y2="96.00" stroke="#000" stroke-width="1.25"/><line x1="371.50" y1="96.00" x2="360.20" y2="96.00" stroke="#000" stroke-width="1.25"/><line x1="45.50" y1="81.43" x2="51.00" y2="81.43" stroke="#000" stroke-width="1.25"/><line x1="371.50" y1="81.43" x2="366.00" y2="81.43" stroke="#000" stroke-width="1.25"/><line x1="45.50" y1="72.91" x2="51.00" y2="72.91" stroke="#000" stroke-width="1.25"/><line x1="371.50" y1="72.91" x2="366.00" y2="72.91" stroke="#000" stroke-width="1.25"/><line x1="45.50" y1="66.86" x2="51.00" y2="66.86" stroke="#000" stroke-width="1.25"/><line x1="371.50" y1="66.86" x2="366.00" y2="66.86" stroke="#000" stroke-width="1.25"/><line x1="45.50" y1="62.17" x2="51.00" y2="62.17" stroke="#000" stroke-width="1.25"/><line x1="371.50" y1="62.17" x2="366.00" y2="62.17" stroke="#000" stroke-width="1.25"/><line x1="45.50" y1="58.34" x2="51.00" y2="58.34" stroke="#000" stroke-width="1.25"/><line x1="371.50" y1="58.34" x2="366.00" y2="58.34" stroke="#000" stroke-width="1.25"/><line x1="45.50" y1="55.10" x2="51.00" y2="55.10" stroke="#000" stroke-width="1.25"/><line x1="371.50" y1="55.10" x2="366.00" y2="55.10" stroke="#000" stroke-width="1.25"/><line x1="45.50" y1="52.29" x2="51.00" y2="52.29" stroke="#000" stroke-width="1.25"/><line x1="371.50" y1="52.29" x2="366.00" y2="52.29" stroke="#000" stroke-width="1.25"/><line x1="45.50" y1="49.81" x2="51.00" y2="49.81" stroke="#000" stroke-width="1.25"/><line x1="371.50" y1="49.81" x2="366.00" y2="49.81" stroke="#000" stroke-width="1.25"/><line x1="45.50" y1="47.60" x2="56.80" y2="47.60" stroke="#000" stroke-width="1.25"/><line x1="371.50" y1="47.60" x2="360.20" y2="47.60" stroke="#000" stroke-width="1.25"/><line x1="45.50" y1="33.03" x2="51.00" y2="33.03" stroke="#000" stroke-width="1.25"/><line x1="371.50" y1="33.03" x2="366.00" y2="33.03" stroke="#000" stroke-width="1.25"/><line x1="45.50" y1="24.51" x2="51.00" y2="24.51" stroke="#000" stroke-width="1.25"/><line x1="371.50" y1="24.51" x2="366.00" y2="24.51" stroke="#000" stroke-width="1.25"/><line x1="45.50" y1="18.46" x2="51.00" y2="18.46" stroke="#000" stroke-width="1.25"/><line x1="371.50" y1="18.46" x2="366.00" y2="18.46" stroke="#000" stroke-width="1.25"/><line x1="45.50" y1="458.79" x2="52.80" y2="458.79" stroke="#000" stroke-width="1.25"/><line x1="371.50" y1="458.79" x2="364.20" y2="458.79" stroke="#000" stroke-width="1.25"/><line x1="45.50" y1="442.75" x2="50.50" y2="442.75" stroke="#000" stroke-width="1.25"/><line x1="371.50" y1="442.75" x2="366.50" y2="442.75" stroke="#000" stroke-width="1.25"/><line x1="45.50" y1="429.18" x2="50.50" y2="429.18" stroke="#000" stroke-width="1.25"/><line x1="371.50" y1="429.18" x2="366.50" y2="429.18" stroke="#000" stroke-width="1.25"/><line x1="45.50" y1="417.43" x2="50.50" y2="417.43" stroke="#000" stroke-width="1.25"/><line x1="371.50" y1="417.43" x2="366.50" y2="417.43" stroke="#000" stroke-width="1.25"/><line x1="45.50" y1="407.07" x2="50.50" y2="407.07" stroke="#000" stroke-width="1.25"/><line x1="371.50" y1="407.07" x2="366.50" y2="407.07" stroke="#000" stroke-width="1.25"/><line x1="45.50" y1="397.80" x2="54.50" y2="397.80" stroke="#000" stroke-width="1.25"/><line x1="371.50" y1="397.80" x2="361.00" y2="397.80" stroke="#000" stroke-width="1.25"/><line x1="45.50" y1="389.41" x2="50.50" y2="389.41" stroke="#000" stroke-width="1.25"/><line x1="371.50" y1="389.41" x2="366.50" y2="389.41" stroke="#000" stroke-width="1.25"/><line x1="45.50" y1="381.76" x2="50.50" y2="381.76" stroke="#000" stroke-width="1.25"/><line x1="371.50" y1="381.76" x2="366.50" y2="381.76" stroke="#000" stroke-width="1.25"/><line x1="45.50" y1="374.72" x2="50.50" y2="374.72" stroke="#000" stroke-width="1.25"/><line x1="371.50" y1="374.72" x2="366.50" y2="374.72" stroke="#000" stroke-width="1.25"/><line x1="45.50" y1="368.19" x2="50.50" y2="368.19" stroke="#000" stroke-width="1.25"/><line x1="371.50" y1="368.19" x2="366.50" y2="368.19" stroke="#000" stroke-width="1.25"/><line x1="45.50" y1="362.12" x2="50.50" y2="362.12" stroke="#000" stroke-width="1.25"/><line x1="371.50" y1="362.12" x2="366.50" y2="362.12" stroke="#000" stroke-width="1.25"/><line x1="45.50" y1="356.45" x2="50.50" y2="356.45" stroke="#000" stroke-width="1.25"/><line x1="371.50" y1="356.45" x2="366.50" y2="356.45" stroke="#000" stroke-width="1.25"/><line x1="45.50" y1="351.11" x2="50.50" y2="351.11" stroke="#000" stroke-width="1.25"/><line x1="371.50" y1="351.11" x2="366.50" y2="351.11" stroke="#000" stroke-width="1.25"/><line x1="45.50" y1="346.08" x2="50.50" y2="346.08" stroke="#000" stroke-width="1.25"/><line x1="371.50" y1="346.08" x2="366.50" y2="346.08" stroke="#000" stroke-width="1.25"/><line x1="45.50" y1="341.32" x2="50.50" y2="341.32" stroke="#000" stroke-width="1.25"/><line x1="371.50" y1="341.32" x2="366.50" y2="341.32" stroke="#000" stroke-width="1.25"/><line x1="45.50" y1="336.81" x2="52.80" y2="336.81" stroke="#000" stroke-width="1.25"/><line x1="371.50" y1="336.81" x2="364.20" y2="336.81" stroke="#000" stroke-width="1.25"/><line x1="45.50" y1="332.52" x2="50.50" y2="332.52" stroke="#000" stroke-width="1.25"/><line x1="371.50" y1="332.52" x2="366.50" y2="332.52" stroke="#000" stroke-width="1.25"/><line x1="45.50" y1="328.43" x2="50.50" y2="328.43" stroke="#000" stroke-width="1.25"/><line x1="371.50" y1="328.43" x2="366.50" y2="328.43" stroke="#000" stroke-width="1.25"/><line x1="45.50" y1="324.51" x2="50.50" y2="324.51" stroke="#000" stroke-width="1.25"/><line x1="371.50" y1="324.51" x2="366.50" y2="324.51" stroke="#000" stroke-width="1.25"/><line x1="45.50" y1="320.77" x2="50.50" y2="320.77" stroke="#000" stroke-width="1.25"/><line x1="371.50" y1="320.77" x2="366.50" y2="320.77" stroke="#000" stroke-width="1.25"/></g>
<line x1="44.8" y1="17.6" x2="372.2" y2="17.6" stroke="#000" stroke-width="1.3"/>
<line x1="45.5" y1="16.8" x2="45.5" y2="478.6" stroke="#000" stroke-width="1.4"/>
<line x1="371.5" y1="16.8" x2="371.5" y2="478.6" stroke="#000" stroke-width="1.5"/>
<line x1="44.8" y1="317.5" x2="372.2" y2="317.5" stroke="#000" stroke-width="1.6"/>
<line x1="44.8" y1="477.7" x2="372.2" y2="477.7" stroke="#000" stroke-width="1.9"/>
<rect x="73.7" y="241.0" width="5.4" height="5.4" fill="#000"/>
<line x1="63.9" y1="256.0" x2="88.5" y2="256.0" stroke="#0000e6" stroke-width="1.1"/>
<path d="M73.10,258.20 L79.70,258.20 L76.40,253.00Z" fill="#0000e6"/>
<line x1="64.1" y1="269.5" x2="88.0" y2="269.5" stroke="#1696c0" stroke-width="1.2" stroke-dasharray="4,1.8,1.2,1.8"/>
<path d="M73.10,267.00 L79.70,267.00 L76.40,272.20Z" fill="#1696c0"/>
<g font-family="Liberation Sans, sans-serif">
<text id="t13" x="50.85" y="13.7" font-size="12.2" fill="#000" textLength="78.8" lengthAdjust="spacing">13000 GeV pp</text>
<text id="tz" x="298.92" y="13.7" font-size="12.2" fill="#000" textLength="67.51" lengthAdjust="spacing">Z (Drell-Yan)</text>
<text id="ttl1" x="75.76" y="42.4" font-size="12.3" fill="#000" textLength="129.21" lengthAdjust="spacing">Transverse region, 10 &lt;</text>
<text id="ttl2" x="207.2" y="42.4" font-size="12.3" fill="#000">p</text>
<text id="ttl3" x="211.4" y="36.5" font-size="8.3" fill="#000">Z</text>
<text id="ttl4" x="211.3" y="48.7" font-size="8.8" fill="#000">T</text>
<text id="ttl5" x="219.73" y="42.4" font-size="12.3" fill="#000" textLength="120.98" lengthAdjust="spacing">&lt; 20 [GeV], high thrust</text>
<text id="leg1" x="94.04" y="246.7" font-size="9.3" fill="#000" textLength="29.61" lengthAdjust="spacing">ATLAS</text>
<text id="leg2" x="93.71" y="258.9" font-size="9.3" fill="#000" textLength="83.8" lengthAdjust="spacing">Pythia 8.315 default</text>
<text id="leg3" x="93.54" y="271.6" font-size="9.3" fill="#000" textLength="110.47" lengthAdjust="spacing">Pythia 8.315 vincia-default</text>
<text id="aid" x="162.8" y="302.7" font-size="8.9" fill="#a0a0a0" textLength="89.54" lengthAdjust="spacing">(ATLAS_2019_I1736531)</text>
<text id="yl10" x="26.88" y="51.9" font-size="11.6" fill="#000" textLength="14.14" lengthAdjust="spacing">10</text>
<text id="yl1" x="35.31" y="99.8" font-size="11.6" fill="#000">1</text>
<text id="ylm1a" x="21.25" y="149.6" font-size="11.6" fill="#000" textLength="12.54" lengthAdjust="spacing">10</text>
<text id="ylm1b" x="32.79" y="144.6" font-size="8.6" fill="#000" textLength="7.71" lengthAdjust="spacing">&#8722;1</text>
<text id="ylm2a" x="18.86" y="197.6" font-size="11.6" fill="#000" textLength="13.08" lengthAdjust="spacing">10</text>
<text id="ylm2b" x="31.25" y="193.2" font-size="8.0" fill="#000" textLength="8.29" lengthAdjust="spacing">&#8722;2</text>
<text id="ylm3a" x="18.86" y="246.4" font-size="11.6" fill="#000" textLength="13.08" lengthAdjust="spacing">10</text>
<text id="ylm3b" x="31.39" y="241.5" font-size="8.0" fill="#000" textLength="7.97" lengthAdjust="spacing">&#8722;3</text>
<text id="ylm4a" x="18.86" y="294.6" font-size="11.6" fill="#000" textLength="13.08" lengthAdjust="spacing">10</text>
<text id="ylm4b" x="31.11" y="289.8" font-size="8.0" fill="#000" textLength="8.27" lengthAdjust="spacing">&#8722;4</text>
<text id="rl2" x="31.37" y="340.9" font-size="11.8" fill="#000">2</text>
<text id="rl1" x="33.17" y="401.9" font-size="11.8" fill="#000">1</text>
<text id="rl05" x="21.63" y="462.3" font-size="11.8" fill="#000" textLength="17.01" lengthAdjust="spacing">0.5</text>
<text id="rr2" x="373.12" y="340.7" font-size="11.8" fill="#000">2</text>
<text id="rr1" x="374.08" y="401.9" font-size="11.8" fill="#000">1</text>
<text id="rr05" x="373.68" y="461.8" font-size="11.8" fill="#000" textLength="16.77" lengthAdjust="spacing">0.5</text>
<text id="xl0" x="51.64" y="489.0" font-size="11.8" fill="#000">0</text>
<text id="xl1" x="121.8" y="489.0" font-size="11.8" fill="#000">1</text>
<text id="xl2" x="194.5" y="489.0" font-size="11.8" fill="#000">2</text>
<text id="xl3" x="265.8" y="489.0" font-size="11.8" fill="#000">3</text>
<text id="xl4" x="337.7" y="489.0" font-size="11.8" fill="#000">4</text>
<text id="xlab" x="317.6" y="503.2" font-size="12.3" fill="#000">N<tspan font-size="8.0" dy="3.8">ch</tspan><tspan dy="-3.8">/d&#951; d&#981;</tspan></text>
<text id="ylab" transform="translate(15.0,133.05) rotate(-90)" x="0" y="0" font-size="12.15" fill="#000">1/N<tspan font-size="7.4" dy="3.8">ev</tspan><tspan dy="-3.8"> dN</tspan><tspan font-size="7.4" dy="3.8">ev</tspan><tspan dy="-3.8">/dN</tspan><tspan font-size="7.4" dy="3.8">ch</tspan><tspan dy="-3.8">/d&#951; d&#981;</tspan></text>
<text id="rlab" transform="translate(18.0,427.88) rotate(-90)" x="0" y="0" font-size="9.2" fill="#000" textLength="63.25" lengthAdjust="spacing">Ratio to ATLAS</text>
<text id="riv" transform="translate(380.6,128.17) rotate(-90)" x="0" y="0" font-size="9.6" fill="#808080" textLength="110.24" lengthAdjust="spacing">Rivet 4.1.0, &#8805; 3.7M events</text>
<text id="mcp" transform="translate(381.0,314.38) rotate(-90)" x="0" y="0" font-size="9.6" fill="#808080" textLength="149.64" lengthAdjust="spacing">mcplots.cern.ch [arXiv:2401.10621]</text>
</g>
</svg>
</div></body></html>
